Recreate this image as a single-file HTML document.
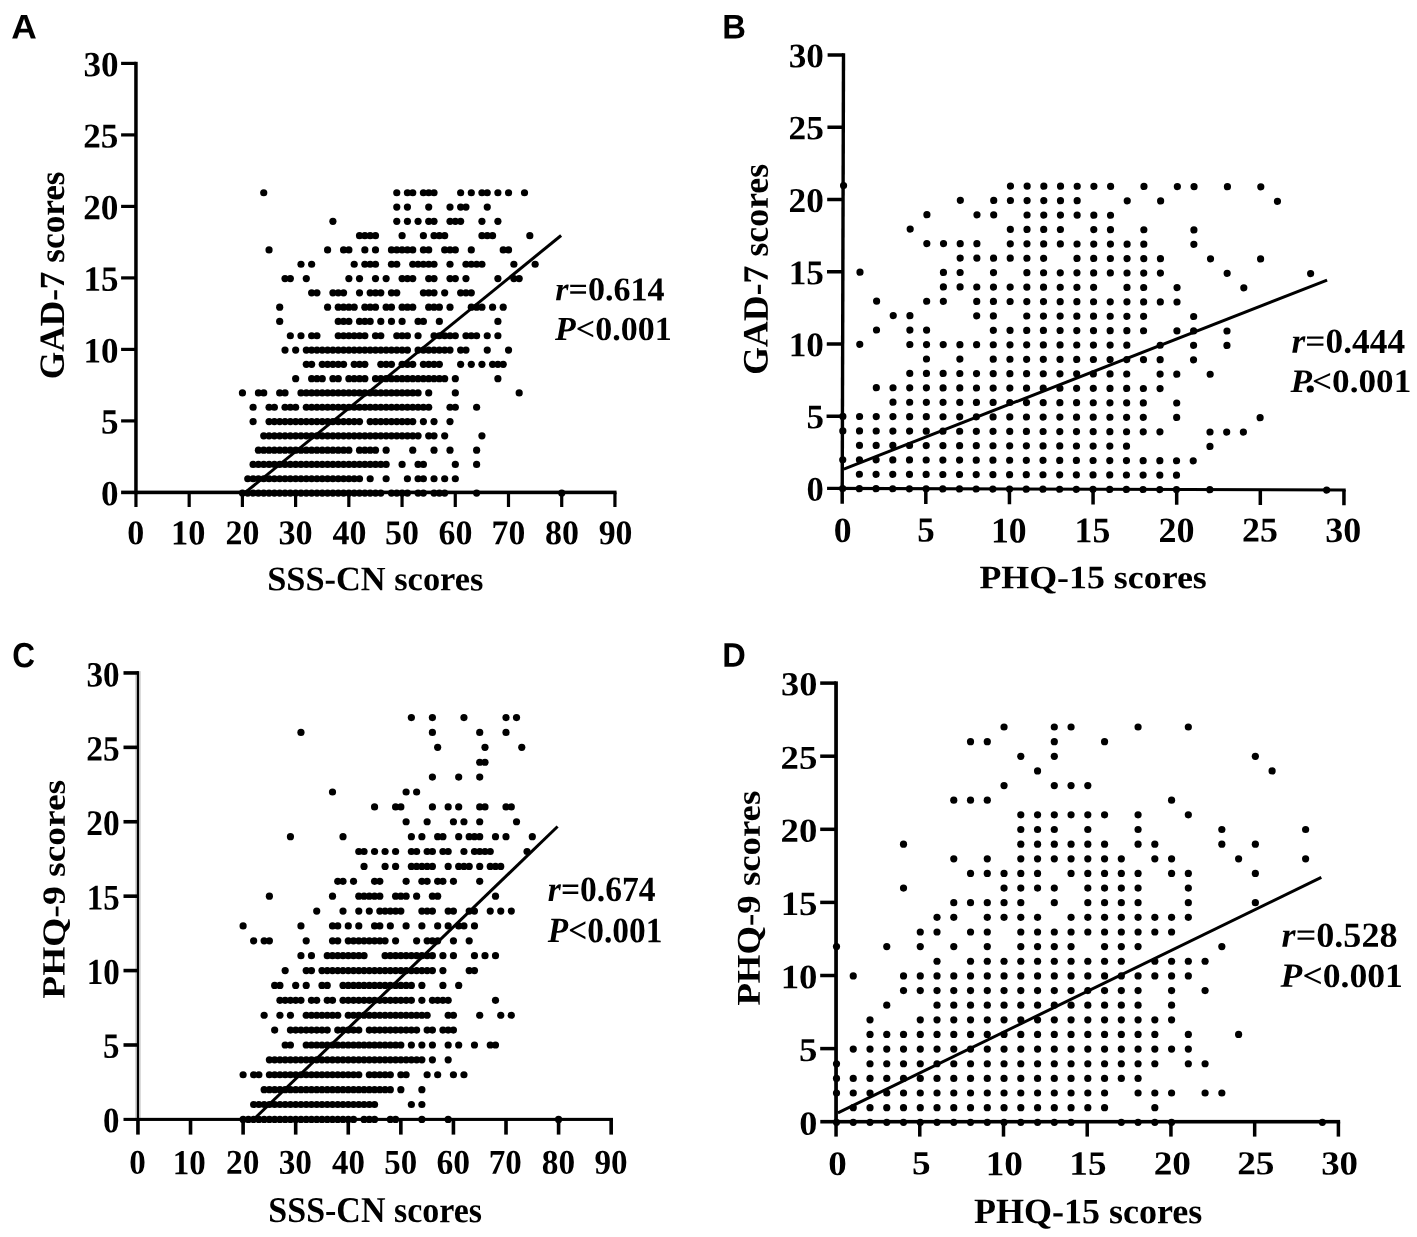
<!DOCTYPE html>
<html><head><meta charset="utf-8"><title>Scatter plots</title>
<style>html,body{margin:0;padding:0;background:#fff;}svg{display:block;will-change:transform;}</style></head>
<body><svg width="1417" height="1237" viewBox="0 0 1417 1237">
<rect width="1417" height="1237" fill="#fff"/>
<g fill="#000">
<g>
<rect x="134.20" y="61.80" width="3.5" height="432.40"/>
<rect x="121.10" y="490.60" width="495.43" height="3.6"/>
<rect x="121.10" y="419.30" width="14.85" height="3.2"/>
<rect x="121.10" y="347.80" width="14.85" height="3.2"/>
<rect x="121.10" y="276.30" width="14.85" height="3.2"/>
<rect x="121.10" y="204.80" width="14.85" height="3.2"/>
<rect x="121.10" y="133.30" width="14.85" height="3.2"/>
<rect x="121.10" y="61.80" width="14.85" height="3.2"/>
<rect x="134.35" y="492.40" width="3.2" height="14.60"/>
<rect x="187.57" y="492.40" width="3.2" height="14.60"/>
<rect x="240.79" y="492.40" width="3.2" height="14.60"/>
<rect x="294.01" y="492.40" width="3.2" height="14.60"/>
<rect x="347.23" y="492.40" width="3.2" height="14.60"/>
<rect x="400.45" y="492.40" width="3.2" height="14.60"/>
<rect x="453.67" y="492.40" width="3.2" height="14.60"/>
<rect x="506.89" y="492.40" width="3.2" height="14.60"/>
<rect x="560.11" y="492.40" width="3.2" height="14.60"/>
<rect x="613.33" y="492.40" width="3.2" height="14.60"/>
<circle cx="263.73" cy="192.75" r="3.6"/>
<circle cx="396.78" cy="192.75" r="3.6"/>
<circle cx="407.42" cy="192.75" r="3.6"/>
<circle cx="412.74" cy="192.75" r="3.6"/>
<circle cx="423.39" cy="192.75" r="3.6"/>
<circle cx="428.71" cy="192.75" r="3.6"/>
<circle cx="434.03" cy="192.75" r="3.6"/>
<circle cx="460.64" cy="192.75" r="3.6"/>
<circle cx="471.29" cy="192.75" r="3.6"/>
<circle cx="481.93" cy="192.75" r="3.6"/>
<circle cx="487.25" cy="192.75" r="3.6"/>
<circle cx="497.90" cy="192.75" r="3.6"/>
<circle cx="508.54" cy="192.75" r="3.6"/>
<circle cx="524.51" cy="192.75" r="3.6"/>
<circle cx="396.78" cy="207.05" r="3.6"/>
<circle cx="407.42" cy="207.05" r="3.6"/>
<circle cx="428.71" cy="207.05" r="3.6"/>
<circle cx="450.00" cy="207.05" r="3.6"/>
<circle cx="460.64" cy="207.05" r="3.6"/>
<circle cx="465.96" cy="207.05" r="3.6"/>
<circle cx="487.25" cy="207.05" r="3.6"/>
<circle cx="332.91" cy="221.35" r="3.6"/>
<circle cx="396.78" cy="221.35" r="3.6"/>
<circle cx="407.42" cy="221.35" r="3.6"/>
<circle cx="418.07" cy="221.35" r="3.6"/>
<circle cx="428.71" cy="221.35" r="3.6"/>
<circle cx="434.03" cy="221.35" r="3.6"/>
<circle cx="450.00" cy="221.35" r="3.6"/>
<circle cx="455.32" cy="221.35" r="3.6"/>
<circle cx="460.64" cy="221.35" r="3.6"/>
<circle cx="481.93" cy="221.35" r="3.6"/>
<circle cx="497.90" cy="221.35" r="3.6"/>
<circle cx="359.52" cy="235.65" r="3.6"/>
<circle cx="364.85" cy="235.65" r="3.6"/>
<circle cx="370.17" cy="235.65" r="3.6"/>
<circle cx="375.49" cy="235.65" r="3.6"/>
<circle cx="402.10" cy="235.65" r="3.6"/>
<circle cx="423.39" cy="235.65" r="3.6"/>
<circle cx="434.03" cy="235.65" r="3.6"/>
<circle cx="439.35" cy="235.65" r="3.6"/>
<circle cx="444.68" cy="235.65" r="3.6"/>
<circle cx="481.93" cy="235.65" r="3.6"/>
<circle cx="487.25" cy="235.65" r="3.6"/>
<circle cx="492.57" cy="235.65" r="3.6"/>
<circle cx="529.83" cy="235.65" r="3.6"/>
<circle cx="269.05" cy="249.95" r="3.6"/>
<circle cx="327.59" cy="249.95" r="3.6"/>
<circle cx="343.56" cy="249.95" r="3.6"/>
<circle cx="348.88" cy="249.95" r="3.6"/>
<circle cx="364.85" cy="249.95" r="3.6"/>
<circle cx="375.49" cy="249.95" r="3.6"/>
<circle cx="391.46" cy="249.95" r="3.6"/>
<circle cx="396.78" cy="249.95" r="3.6"/>
<circle cx="402.10" cy="249.95" r="3.6"/>
<circle cx="407.42" cy="249.95" r="3.6"/>
<circle cx="412.74" cy="249.95" r="3.6"/>
<circle cx="423.39" cy="249.95" r="3.6"/>
<circle cx="428.71" cy="249.95" r="3.6"/>
<circle cx="444.68" cy="249.95" r="3.6"/>
<circle cx="450.00" cy="249.95" r="3.6"/>
<circle cx="455.32" cy="249.95" r="3.6"/>
<circle cx="471.29" cy="249.95" r="3.6"/>
<circle cx="503.22" cy="249.95" r="3.6"/>
<circle cx="508.54" cy="249.95" r="3.6"/>
<circle cx="300.98" cy="264.25" r="3.6"/>
<circle cx="311.63" cy="264.25" r="3.6"/>
<circle cx="354.20" cy="264.25" r="3.6"/>
<circle cx="364.85" cy="264.25" r="3.6"/>
<circle cx="370.17" cy="264.25" r="3.6"/>
<circle cx="375.49" cy="264.25" r="3.6"/>
<circle cx="391.46" cy="264.25" r="3.6"/>
<circle cx="396.78" cy="264.25" r="3.6"/>
<circle cx="412.74" cy="264.25" r="3.6"/>
<circle cx="418.07" cy="264.25" r="3.6"/>
<circle cx="423.39" cy="264.25" r="3.6"/>
<circle cx="428.71" cy="264.25" r="3.6"/>
<circle cx="434.03" cy="264.25" r="3.6"/>
<circle cx="450.00" cy="264.25" r="3.6"/>
<circle cx="465.96" cy="264.25" r="3.6"/>
<circle cx="471.29" cy="264.25" r="3.6"/>
<circle cx="476.61" cy="264.25" r="3.6"/>
<circle cx="481.93" cy="264.25" r="3.6"/>
<circle cx="513.86" cy="264.25" r="3.6"/>
<circle cx="535.15" cy="264.25" r="3.6"/>
<circle cx="285.02" cy="278.55" r="3.6"/>
<circle cx="290.34" cy="278.55" r="3.6"/>
<circle cx="306.30" cy="278.55" r="3.6"/>
<circle cx="348.88" cy="278.55" r="3.6"/>
<circle cx="359.52" cy="278.55" r="3.6"/>
<circle cx="375.49" cy="278.55" r="3.6"/>
<circle cx="386.13" cy="278.55" r="3.6"/>
<circle cx="402.10" cy="278.55" r="3.6"/>
<circle cx="407.42" cy="278.55" r="3.6"/>
<circle cx="412.74" cy="278.55" r="3.6"/>
<circle cx="428.71" cy="278.55" r="3.6"/>
<circle cx="434.03" cy="278.55" r="3.6"/>
<circle cx="450.00" cy="278.55" r="3.6"/>
<circle cx="455.32" cy="278.55" r="3.6"/>
<circle cx="465.96" cy="278.55" r="3.6"/>
<circle cx="497.90" cy="278.55" r="3.6"/>
<circle cx="513.86" cy="278.55" r="3.6"/>
<circle cx="519.18" cy="278.55" r="3.6"/>
<circle cx="311.63" cy="292.85" r="3.6"/>
<circle cx="316.95" cy="292.85" r="3.6"/>
<circle cx="332.91" cy="292.85" r="3.6"/>
<circle cx="338.24" cy="292.85" r="3.6"/>
<circle cx="343.56" cy="292.85" r="3.6"/>
<circle cx="359.52" cy="292.85" r="3.6"/>
<circle cx="370.17" cy="292.85" r="3.6"/>
<circle cx="375.49" cy="292.85" r="3.6"/>
<circle cx="380.81" cy="292.85" r="3.6"/>
<circle cx="391.46" cy="292.85" r="3.6"/>
<circle cx="396.78" cy="292.85" r="3.6"/>
<circle cx="423.39" cy="292.85" r="3.6"/>
<circle cx="428.71" cy="292.85" r="3.6"/>
<circle cx="434.03" cy="292.85" r="3.6"/>
<circle cx="444.68" cy="292.85" r="3.6"/>
<circle cx="460.64" cy="292.85" r="3.6"/>
<circle cx="465.96" cy="292.85" r="3.6"/>
<circle cx="471.29" cy="292.85" r="3.6"/>
<circle cx="279.69" cy="307.15" r="3.6"/>
<circle cx="327.59" cy="307.15" r="3.6"/>
<circle cx="338.24" cy="307.15" r="3.6"/>
<circle cx="343.56" cy="307.15" r="3.6"/>
<circle cx="348.88" cy="307.15" r="3.6"/>
<circle cx="354.20" cy="307.15" r="3.6"/>
<circle cx="364.85" cy="307.15" r="3.6"/>
<circle cx="370.17" cy="307.15" r="3.6"/>
<circle cx="375.49" cy="307.15" r="3.6"/>
<circle cx="386.13" cy="307.15" r="3.6"/>
<circle cx="391.46" cy="307.15" r="3.6"/>
<circle cx="402.10" cy="307.15" r="3.6"/>
<circle cx="407.42" cy="307.15" r="3.6"/>
<circle cx="412.74" cy="307.15" r="3.6"/>
<circle cx="428.71" cy="307.15" r="3.6"/>
<circle cx="434.03" cy="307.15" r="3.6"/>
<circle cx="439.35" cy="307.15" r="3.6"/>
<circle cx="450.00" cy="307.15" r="3.6"/>
<circle cx="471.29" cy="307.15" r="3.6"/>
<circle cx="476.61" cy="307.15" r="3.6"/>
<circle cx="481.93" cy="307.15" r="3.6"/>
<circle cx="492.57" cy="307.15" r="3.6"/>
<circle cx="503.22" cy="307.15" r="3.6"/>
<circle cx="279.69" cy="321.45" r="3.6"/>
<circle cx="338.24" cy="321.45" r="3.6"/>
<circle cx="343.56" cy="321.45" r="3.6"/>
<circle cx="348.88" cy="321.45" r="3.6"/>
<circle cx="359.52" cy="321.45" r="3.6"/>
<circle cx="364.85" cy="321.45" r="3.6"/>
<circle cx="370.17" cy="321.45" r="3.6"/>
<circle cx="380.81" cy="321.45" r="3.6"/>
<circle cx="391.46" cy="321.45" r="3.6"/>
<circle cx="402.10" cy="321.45" r="3.6"/>
<circle cx="418.07" cy="321.45" r="3.6"/>
<circle cx="423.39" cy="321.45" r="3.6"/>
<circle cx="439.35" cy="321.45" r="3.6"/>
<circle cx="497.90" cy="321.45" r="3.6"/>
<circle cx="290.34" cy="335.75" r="3.6"/>
<circle cx="300.98" cy="335.75" r="3.6"/>
<circle cx="311.63" cy="335.75" r="3.6"/>
<circle cx="316.95" cy="335.75" r="3.6"/>
<circle cx="338.24" cy="335.75" r="3.6"/>
<circle cx="343.56" cy="335.75" r="3.6"/>
<circle cx="348.88" cy="335.75" r="3.6"/>
<circle cx="354.20" cy="335.75" r="3.6"/>
<circle cx="359.52" cy="335.75" r="3.6"/>
<circle cx="364.85" cy="335.75" r="3.6"/>
<circle cx="375.49" cy="335.75" r="3.6"/>
<circle cx="380.81" cy="335.75" r="3.6"/>
<circle cx="396.78" cy="335.75" r="3.6"/>
<circle cx="402.10" cy="335.75" r="3.6"/>
<circle cx="407.42" cy="335.75" r="3.6"/>
<circle cx="418.07" cy="335.75" r="3.6"/>
<circle cx="434.03" cy="335.75" r="3.6"/>
<circle cx="439.35" cy="335.75" r="3.6"/>
<circle cx="444.68" cy="335.75" r="3.6"/>
<circle cx="450.00" cy="335.75" r="3.6"/>
<circle cx="455.32" cy="335.75" r="3.6"/>
<circle cx="465.96" cy="335.75" r="3.6"/>
<circle cx="471.29" cy="335.75" r="3.6"/>
<circle cx="476.61" cy="335.75" r="3.6"/>
<circle cx="487.25" cy="335.75" r="3.6"/>
<circle cx="497.90" cy="335.75" r="3.6"/>
<circle cx="285.02" cy="350.05" r="3.6"/>
<circle cx="295.66" cy="350.05" r="3.6"/>
<circle cx="306.30" cy="350.05" r="3.6"/>
<circle cx="311.63" cy="350.05" r="3.6"/>
<circle cx="316.95" cy="350.05" r="3.6"/>
<circle cx="322.27" cy="350.05" r="3.6"/>
<circle cx="327.59" cy="350.05" r="3.6"/>
<circle cx="332.91" cy="350.05" r="3.6"/>
<circle cx="338.24" cy="350.05" r="3.6"/>
<circle cx="343.56" cy="350.05" r="3.6"/>
<circle cx="348.88" cy="350.05" r="3.6"/>
<circle cx="354.20" cy="350.05" r="3.6"/>
<circle cx="359.52" cy="350.05" r="3.6"/>
<circle cx="364.85" cy="350.05" r="3.6"/>
<circle cx="370.17" cy="350.05" r="3.6"/>
<circle cx="375.49" cy="350.05" r="3.6"/>
<circle cx="380.81" cy="350.05" r="3.6"/>
<circle cx="386.13" cy="350.05" r="3.6"/>
<circle cx="391.46" cy="350.05" r="3.6"/>
<circle cx="396.78" cy="350.05" r="3.6"/>
<circle cx="402.10" cy="350.05" r="3.6"/>
<circle cx="407.42" cy="350.05" r="3.6"/>
<circle cx="418.07" cy="350.05" r="3.6"/>
<circle cx="423.39" cy="350.05" r="3.6"/>
<circle cx="428.71" cy="350.05" r="3.6"/>
<circle cx="434.03" cy="350.05" r="3.6"/>
<circle cx="439.35" cy="350.05" r="3.6"/>
<circle cx="444.68" cy="350.05" r="3.6"/>
<circle cx="450.00" cy="350.05" r="3.6"/>
<circle cx="460.64" cy="350.05" r="3.6"/>
<circle cx="465.96" cy="350.05" r="3.6"/>
<circle cx="487.25" cy="350.05" r="3.6"/>
<circle cx="508.54" cy="350.05" r="3.6"/>
<circle cx="306.30" cy="364.35" r="3.6"/>
<circle cx="311.63" cy="364.35" r="3.6"/>
<circle cx="322.27" cy="364.35" r="3.6"/>
<circle cx="327.59" cy="364.35" r="3.6"/>
<circle cx="332.91" cy="364.35" r="3.6"/>
<circle cx="338.24" cy="364.35" r="3.6"/>
<circle cx="343.56" cy="364.35" r="3.6"/>
<circle cx="354.20" cy="364.35" r="3.6"/>
<circle cx="359.52" cy="364.35" r="3.6"/>
<circle cx="364.85" cy="364.35" r="3.6"/>
<circle cx="380.81" cy="364.35" r="3.6"/>
<circle cx="386.13" cy="364.35" r="3.6"/>
<circle cx="391.46" cy="364.35" r="3.6"/>
<circle cx="402.10" cy="364.35" r="3.6"/>
<circle cx="407.42" cy="364.35" r="3.6"/>
<circle cx="412.74" cy="364.35" r="3.6"/>
<circle cx="423.39" cy="364.35" r="3.6"/>
<circle cx="428.71" cy="364.35" r="3.6"/>
<circle cx="434.03" cy="364.35" r="3.6"/>
<circle cx="439.35" cy="364.35" r="3.6"/>
<circle cx="460.64" cy="364.35" r="3.6"/>
<circle cx="471.29" cy="364.35" r="3.6"/>
<circle cx="481.93" cy="364.35" r="3.6"/>
<circle cx="492.57" cy="364.35" r="3.6"/>
<circle cx="497.90" cy="364.35" r="3.6"/>
<circle cx="503.22" cy="364.35" r="3.6"/>
<circle cx="295.66" cy="378.65" r="3.6"/>
<circle cx="311.63" cy="378.65" r="3.6"/>
<circle cx="316.95" cy="378.65" r="3.6"/>
<circle cx="322.27" cy="378.65" r="3.6"/>
<circle cx="332.91" cy="378.65" r="3.6"/>
<circle cx="338.24" cy="378.65" r="3.6"/>
<circle cx="348.88" cy="378.65" r="3.6"/>
<circle cx="354.20" cy="378.65" r="3.6"/>
<circle cx="359.52" cy="378.65" r="3.6"/>
<circle cx="364.85" cy="378.65" r="3.6"/>
<circle cx="375.49" cy="378.65" r="3.6"/>
<circle cx="380.81" cy="378.65" r="3.6"/>
<circle cx="386.13" cy="378.65" r="3.6"/>
<circle cx="391.46" cy="378.65" r="3.6"/>
<circle cx="396.78" cy="378.65" r="3.6"/>
<circle cx="402.10" cy="378.65" r="3.6"/>
<circle cx="407.42" cy="378.65" r="3.6"/>
<circle cx="412.74" cy="378.65" r="3.6"/>
<circle cx="418.07" cy="378.65" r="3.6"/>
<circle cx="423.39" cy="378.65" r="3.6"/>
<circle cx="428.71" cy="378.65" r="3.6"/>
<circle cx="434.03" cy="378.65" r="3.6"/>
<circle cx="439.35" cy="378.65" r="3.6"/>
<circle cx="444.68" cy="378.65" r="3.6"/>
<circle cx="455.32" cy="378.65" r="3.6"/>
<circle cx="497.90" cy="378.65" r="3.6"/>
<circle cx="242.44" cy="392.95" r="3.6"/>
<circle cx="258.41" cy="392.95" r="3.6"/>
<circle cx="263.73" cy="392.95" r="3.6"/>
<circle cx="279.69" cy="392.95" r="3.6"/>
<circle cx="285.02" cy="392.95" r="3.6"/>
<circle cx="300.98" cy="392.95" r="3.6"/>
<circle cx="306.30" cy="392.95" r="3.6"/>
<circle cx="311.63" cy="392.95" r="3.6"/>
<circle cx="316.95" cy="392.95" r="3.6"/>
<circle cx="322.27" cy="392.95" r="3.6"/>
<circle cx="327.59" cy="392.95" r="3.6"/>
<circle cx="332.91" cy="392.95" r="3.6"/>
<circle cx="338.24" cy="392.95" r="3.6"/>
<circle cx="343.56" cy="392.95" r="3.6"/>
<circle cx="348.88" cy="392.95" r="3.6"/>
<circle cx="354.20" cy="392.95" r="3.6"/>
<circle cx="359.52" cy="392.95" r="3.6"/>
<circle cx="364.85" cy="392.95" r="3.6"/>
<circle cx="370.17" cy="392.95" r="3.6"/>
<circle cx="375.49" cy="392.95" r="3.6"/>
<circle cx="380.81" cy="392.95" r="3.6"/>
<circle cx="386.13" cy="392.95" r="3.6"/>
<circle cx="391.46" cy="392.95" r="3.6"/>
<circle cx="396.78" cy="392.95" r="3.6"/>
<circle cx="402.10" cy="392.95" r="3.6"/>
<circle cx="407.42" cy="392.95" r="3.6"/>
<circle cx="412.74" cy="392.95" r="3.6"/>
<circle cx="418.07" cy="392.95" r="3.6"/>
<circle cx="428.71" cy="392.95" r="3.6"/>
<circle cx="455.32" cy="392.95" r="3.6"/>
<circle cx="519.18" cy="392.95" r="3.6"/>
<circle cx="253.08" cy="407.25" r="3.6"/>
<circle cx="269.05" cy="407.25" r="3.6"/>
<circle cx="274.37" cy="407.25" r="3.6"/>
<circle cx="285.02" cy="407.25" r="3.6"/>
<circle cx="290.34" cy="407.25" r="3.6"/>
<circle cx="295.66" cy="407.25" r="3.6"/>
<circle cx="306.30" cy="407.25" r="3.6"/>
<circle cx="311.63" cy="407.25" r="3.6"/>
<circle cx="316.95" cy="407.25" r="3.6"/>
<circle cx="322.27" cy="407.25" r="3.6"/>
<circle cx="327.59" cy="407.25" r="3.6"/>
<circle cx="332.91" cy="407.25" r="3.6"/>
<circle cx="338.24" cy="407.25" r="3.6"/>
<circle cx="343.56" cy="407.25" r="3.6"/>
<circle cx="348.88" cy="407.25" r="3.6"/>
<circle cx="354.20" cy="407.25" r="3.6"/>
<circle cx="359.52" cy="407.25" r="3.6"/>
<circle cx="364.85" cy="407.25" r="3.6"/>
<circle cx="370.17" cy="407.25" r="3.6"/>
<circle cx="375.49" cy="407.25" r="3.6"/>
<circle cx="380.81" cy="407.25" r="3.6"/>
<circle cx="386.13" cy="407.25" r="3.6"/>
<circle cx="391.46" cy="407.25" r="3.6"/>
<circle cx="396.78" cy="407.25" r="3.6"/>
<circle cx="402.10" cy="407.25" r="3.6"/>
<circle cx="407.42" cy="407.25" r="3.6"/>
<circle cx="412.74" cy="407.25" r="3.6"/>
<circle cx="418.07" cy="407.25" r="3.6"/>
<circle cx="423.39" cy="407.25" r="3.6"/>
<circle cx="428.71" cy="407.25" r="3.6"/>
<circle cx="450.00" cy="407.25" r="3.6"/>
<circle cx="455.32" cy="407.25" r="3.6"/>
<circle cx="476.61" cy="407.25" r="3.6"/>
<circle cx="253.08" cy="421.55" r="3.6"/>
<circle cx="269.05" cy="421.55" r="3.6"/>
<circle cx="274.37" cy="421.55" r="3.6"/>
<circle cx="279.69" cy="421.55" r="3.6"/>
<circle cx="285.02" cy="421.55" r="3.6"/>
<circle cx="290.34" cy="421.55" r="3.6"/>
<circle cx="295.66" cy="421.55" r="3.6"/>
<circle cx="300.98" cy="421.55" r="3.6"/>
<circle cx="306.30" cy="421.55" r="3.6"/>
<circle cx="311.63" cy="421.55" r="3.6"/>
<circle cx="316.95" cy="421.55" r="3.6"/>
<circle cx="322.27" cy="421.55" r="3.6"/>
<circle cx="327.59" cy="421.55" r="3.6"/>
<circle cx="332.91" cy="421.55" r="3.6"/>
<circle cx="338.24" cy="421.55" r="3.6"/>
<circle cx="343.56" cy="421.55" r="3.6"/>
<circle cx="348.88" cy="421.55" r="3.6"/>
<circle cx="354.20" cy="421.55" r="3.6"/>
<circle cx="359.52" cy="421.55" r="3.6"/>
<circle cx="370.17" cy="421.55" r="3.6"/>
<circle cx="375.49" cy="421.55" r="3.6"/>
<circle cx="380.81" cy="421.55" r="3.6"/>
<circle cx="386.13" cy="421.55" r="3.6"/>
<circle cx="391.46" cy="421.55" r="3.6"/>
<circle cx="396.78" cy="421.55" r="3.6"/>
<circle cx="402.10" cy="421.55" r="3.6"/>
<circle cx="407.42" cy="421.55" r="3.6"/>
<circle cx="412.74" cy="421.55" r="3.6"/>
<circle cx="423.39" cy="421.55" r="3.6"/>
<circle cx="434.03" cy="421.55" r="3.6"/>
<circle cx="450.00" cy="421.55" r="3.6"/>
<circle cx="263.73" cy="435.85" r="3.6"/>
<circle cx="269.05" cy="435.85" r="3.6"/>
<circle cx="274.37" cy="435.85" r="3.6"/>
<circle cx="279.69" cy="435.85" r="3.6"/>
<circle cx="285.02" cy="435.85" r="3.6"/>
<circle cx="290.34" cy="435.85" r="3.6"/>
<circle cx="295.66" cy="435.85" r="3.6"/>
<circle cx="300.98" cy="435.85" r="3.6"/>
<circle cx="306.30" cy="435.85" r="3.6"/>
<circle cx="311.63" cy="435.85" r="3.6"/>
<circle cx="316.95" cy="435.85" r="3.6"/>
<circle cx="322.27" cy="435.85" r="3.6"/>
<circle cx="327.59" cy="435.85" r="3.6"/>
<circle cx="332.91" cy="435.85" r="3.6"/>
<circle cx="338.24" cy="435.85" r="3.6"/>
<circle cx="343.56" cy="435.85" r="3.6"/>
<circle cx="348.88" cy="435.85" r="3.6"/>
<circle cx="354.20" cy="435.85" r="3.6"/>
<circle cx="359.52" cy="435.85" r="3.6"/>
<circle cx="364.85" cy="435.85" r="3.6"/>
<circle cx="370.17" cy="435.85" r="3.6"/>
<circle cx="375.49" cy="435.85" r="3.6"/>
<circle cx="380.81" cy="435.85" r="3.6"/>
<circle cx="386.13" cy="435.85" r="3.6"/>
<circle cx="391.46" cy="435.85" r="3.6"/>
<circle cx="396.78" cy="435.85" r="3.6"/>
<circle cx="402.10" cy="435.85" r="3.6"/>
<circle cx="407.42" cy="435.85" r="3.6"/>
<circle cx="412.74" cy="435.85" r="3.6"/>
<circle cx="418.07" cy="435.85" r="3.6"/>
<circle cx="428.71" cy="435.85" r="3.6"/>
<circle cx="434.03" cy="435.85" r="3.6"/>
<circle cx="444.68" cy="435.85" r="3.6"/>
<circle cx="481.93" cy="435.85" r="3.6"/>
<circle cx="258.41" cy="450.15" r="3.6"/>
<circle cx="263.73" cy="450.15" r="3.6"/>
<circle cx="269.05" cy="450.15" r="3.6"/>
<circle cx="274.37" cy="450.15" r="3.6"/>
<circle cx="279.69" cy="450.15" r="3.6"/>
<circle cx="285.02" cy="450.15" r="3.6"/>
<circle cx="290.34" cy="450.15" r="3.6"/>
<circle cx="295.66" cy="450.15" r="3.6"/>
<circle cx="300.98" cy="450.15" r="3.6"/>
<circle cx="306.30" cy="450.15" r="3.6"/>
<circle cx="311.63" cy="450.15" r="3.6"/>
<circle cx="316.95" cy="450.15" r="3.6"/>
<circle cx="322.27" cy="450.15" r="3.6"/>
<circle cx="327.59" cy="450.15" r="3.6"/>
<circle cx="332.91" cy="450.15" r="3.6"/>
<circle cx="338.24" cy="450.15" r="3.6"/>
<circle cx="343.56" cy="450.15" r="3.6"/>
<circle cx="348.88" cy="450.15" r="3.6"/>
<circle cx="359.52" cy="450.15" r="3.6"/>
<circle cx="364.85" cy="450.15" r="3.6"/>
<circle cx="370.17" cy="450.15" r="3.6"/>
<circle cx="375.49" cy="450.15" r="3.6"/>
<circle cx="386.13" cy="450.15" r="3.6"/>
<circle cx="412.74" cy="450.15" r="3.6"/>
<circle cx="434.03" cy="450.15" r="3.6"/>
<circle cx="450.00" cy="450.15" r="3.6"/>
<circle cx="476.61" cy="450.15" r="3.6"/>
<circle cx="253.08" cy="464.45" r="3.6"/>
<circle cx="258.41" cy="464.45" r="3.6"/>
<circle cx="263.73" cy="464.45" r="3.6"/>
<circle cx="269.05" cy="464.45" r="3.6"/>
<circle cx="274.37" cy="464.45" r="3.6"/>
<circle cx="279.69" cy="464.45" r="3.6"/>
<circle cx="285.02" cy="464.45" r="3.6"/>
<circle cx="290.34" cy="464.45" r="3.6"/>
<circle cx="295.66" cy="464.45" r="3.6"/>
<circle cx="300.98" cy="464.45" r="3.6"/>
<circle cx="306.30" cy="464.45" r="3.6"/>
<circle cx="311.63" cy="464.45" r="3.6"/>
<circle cx="316.95" cy="464.45" r="3.6"/>
<circle cx="322.27" cy="464.45" r="3.6"/>
<circle cx="327.59" cy="464.45" r="3.6"/>
<circle cx="332.91" cy="464.45" r="3.6"/>
<circle cx="338.24" cy="464.45" r="3.6"/>
<circle cx="343.56" cy="464.45" r="3.6"/>
<circle cx="348.88" cy="464.45" r="3.6"/>
<circle cx="354.20" cy="464.45" r="3.6"/>
<circle cx="359.52" cy="464.45" r="3.6"/>
<circle cx="364.85" cy="464.45" r="3.6"/>
<circle cx="370.17" cy="464.45" r="3.6"/>
<circle cx="375.49" cy="464.45" r="3.6"/>
<circle cx="380.81" cy="464.45" r="3.6"/>
<circle cx="386.13" cy="464.45" r="3.6"/>
<circle cx="402.10" cy="464.45" r="3.6"/>
<circle cx="418.07" cy="464.45" r="3.6"/>
<circle cx="423.39" cy="464.45" r="3.6"/>
<circle cx="455.32" cy="464.45" r="3.6"/>
<circle cx="476.61" cy="464.45" r="3.6"/>
<circle cx="247.76" cy="478.75" r="3.6"/>
<circle cx="253.08" cy="478.75" r="3.6"/>
<circle cx="258.41" cy="478.75" r="3.6"/>
<circle cx="263.73" cy="478.75" r="3.6"/>
<circle cx="269.05" cy="478.75" r="3.6"/>
<circle cx="274.37" cy="478.75" r="3.6"/>
<circle cx="279.69" cy="478.75" r="3.6"/>
<circle cx="285.02" cy="478.75" r="3.6"/>
<circle cx="290.34" cy="478.75" r="3.6"/>
<circle cx="295.66" cy="478.75" r="3.6"/>
<circle cx="300.98" cy="478.75" r="3.6"/>
<circle cx="306.30" cy="478.75" r="3.6"/>
<circle cx="311.63" cy="478.75" r="3.6"/>
<circle cx="316.95" cy="478.75" r="3.6"/>
<circle cx="322.27" cy="478.75" r="3.6"/>
<circle cx="327.59" cy="478.75" r="3.6"/>
<circle cx="332.91" cy="478.75" r="3.6"/>
<circle cx="338.24" cy="478.75" r="3.6"/>
<circle cx="343.56" cy="478.75" r="3.6"/>
<circle cx="348.88" cy="478.75" r="3.6"/>
<circle cx="354.20" cy="478.75" r="3.6"/>
<circle cx="359.52" cy="478.75" r="3.6"/>
<circle cx="370.17" cy="478.75" r="3.6"/>
<circle cx="386.13" cy="478.75" r="3.6"/>
<circle cx="407.42" cy="478.75" r="3.6"/>
<circle cx="418.07" cy="478.75" r="3.6"/>
<circle cx="423.39" cy="478.75" r="3.6"/>
<circle cx="434.03" cy="478.75" r="3.6"/>
<circle cx="444.68" cy="478.75" r="3.6"/>
<circle cx="455.32" cy="478.75" r="3.6"/>
<circle cx="242.44" cy="493.05" r="3.6"/>
<circle cx="247.76" cy="493.05" r="3.6"/>
<circle cx="253.08" cy="493.05" r="3.6"/>
<circle cx="258.41" cy="493.05" r="3.6"/>
<circle cx="263.73" cy="493.05" r="3.6"/>
<circle cx="269.05" cy="493.05" r="3.6"/>
<circle cx="274.37" cy="493.05" r="3.6"/>
<circle cx="279.69" cy="493.05" r="3.6"/>
<circle cx="285.02" cy="493.05" r="3.6"/>
<circle cx="290.34" cy="493.05" r="3.6"/>
<circle cx="295.66" cy="493.05" r="3.6"/>
<circle cx="300.98" cy="493.05" r="3.6"/>
<circle cx="306.30" cy="493.05" r="3.6"/>
<circle cx="311.63" cy="493.05" r="3.6"/>
<circle cx="316.95" cy="493.05" r="3.6"/>
<circle cx="322.27" cy="493.05" r="3.6"/>
<circle cx="327.59" cy="493.05" r="3.6"/>
<circle cx="332.91" cy="493.05" r="3.6"/>
<circle cx="338.24" cy="493.05" r="3.6"/>
<circle cx="343.56" cy="493.05" r="3.6"/>
<circle cx="348.88" cy="493.05" r="3.6"/>
<circle cx="354.20" cy="493.05" r="3.6"/>
<circle cx="359.52" cy="493.05" r="3.6"/>
<circle cx="364.85" cy="493.05" r="3.6"/>
<circle cx="370.17" cy="493.05" r="3.6"/>
<circle cx="375.49" cy="493.05" r="3.6"/>
<circle cx="380.81" cy="493.05" r="3.6"/>
<circle cx="391.46" cy="493.05" r="3.6"/>
<circle cx="396.78" cy="493.05" r="3.6"/>
<circle cx="402.10" cy="493.05" r="3.6"/>
<circle cx="407.42" cy="493.05" r="3.6"/>
<circle cx="418.07" cy="493.05" r="3.6"/>
<circle cx="423.39" cy="493.05" r="3.6"/>
<circle cx="434.03" cy="493.05" r="3.6"/>
<circle cx="439.35" cy="493.05" r="3.6"/>
<circle cx="444.68" cy="493.05" r="3.6"/>
<circle cx="476.61" cy="493.05" r="3.6"/>
<circle cx="561.76" cy="493.05" r="3.6"/>
<line x1="245.3" y1="492.4" x2="561.1" y2="235.5" stroke="#000" stroke-width="3"/>
</g>
<g transform="rotate(0.17 1093 272)">
<rect x="841.16" y="53.95" width="3.4" height="436.80"/>
<rect x="827.70" y="487.65" width="518.66" height="3.1"/>
<rect x="827.00" y="415.20" width="15.86" height="3.5"/>
<rect x="827.00" y="342.95" width="15.86" height="3.5"/>
<rect x="827.00" y="270.70" width="15.86" height="3.5"/>
<rect x="827.00" y="198.45" width="15.86" height="3.5"/>
<rect x="827.00" y="126.20" width="15.86" height="3.5"/>
<rect x="827.00" y="53.95" width="15.86" height="3.5"/>
<rect x="841.11" y="489.20" width="3.5" height="15.35"/>
<rect x="924.74" y="489.20" width="3.5" height="15.35"/>
<rect x="1008.36" y="489.20" width="3.5" height="15.35"/>
<rect x="1091.99" y="489.20" width="3.5" height="15.35"/>
<rect x="1175.61" y="489.20" width="3.5" height="15.35"/>
<rect x="1259.24" y="489.20" width="3.5" height="15.35"/>
<rect x="1342.86" y="489.20" width="3.5" height="15.35"/>
<circle cx="843.30" cy="186.32" r="3.6"/>
<circle cx="1010.20" cy="186.32" r="3.6"/>
<circle cx="1026.89" cy="186.32" r="3.6"/>
<circle cx="1043.58" cy="186.32" r="3.6"/>
<circle cx="1060.27" cy="186.32" r="3.6"/>
<circle cx="1076.96" cy="186.32" r="3.6"/>
<circle cx="1093.65" cy="186.32" r="3.6"/>
<circle cx="1110.34" cy="186.32" r="3.6"/>
<circle cx="1143.72" cy="186.32" r="3.6"/>
<circle cx="1177.10" cy="186.32" r="3.6"/>
<circle cx="1193.79" cy="186.32" r="3.6"/>
<circle cx="1227.17" cy="186.32" r="3.6"/>
<circle cx="1260.55" cy="186.32" r="3.6"/>
<circle cx="960.13" cy="200.75" r="3.6"/>
<circle cx="993.51" cy="200.75" r="3.6"/>
<circle cx="1010.20" cy="200.75" r="3.6"/>
<circle cx="1026.89" cy="200.75" r="3.6"/>
<circle cx="1043.58" cy="200.75" r="3.6"/>
<circle cx="1060.27" cy="200.75" r="3.6"/>
<circle cx="1076.96" cy="200.75" r="3.6"/>
<circle cx="1127.03" cy="200.75" r="3.6"/>
<circle cx="1160.41" cy="200.75" r="3.6"/>
<circle cx="1277.24" cy="200.75" r="3.6"/>
<circle cx="926.75" cy="215.18" r="3.6"/>
<circle cx="976.82" cy="215.18" r="3.6"/>
<circle cx="993.51" cy="215.18" r="3.6"/>
<circle cx="1026.89" cy="215.18" r="3.6"/>
<circle cx="1043.58" cy="215.18" r="3.6"/>
<circle cx="1060.27" cy="215.18" r="3.6"/>
<circle cx="1076.96" cy="215.18" r="3.6"/>
<circle cx="1093.65" cy="215.18" r="3.6"/>
<circle cx="1110.34" cy="215.18" r="3.6"/>
<circle cx="910.06" cy="229.61" r="3.6"/>
<circle cx="1010.20" cy="229.61" r="3.6"/>
<circle cx="1026.89" cy="229.61" r="3.6"/>
<circle cx="1043.58" cy="229.61" r="3.6"/>
<circle cx="1060.27" cy="229.61" r="3.6"/>
<circle cx="1093.65" cy="229.61" r="3.6"/>
<circle cx="1110.34" cy="229.61" r="3.6"/>
<circle cx="1143.72" cy="229.61" r="3.6"/>
<circle cx="1193.79" cy="229.61" r="3.6"/>
<circle cx="926.75" cy="244.04" r="3.6"/>
<circle cx="943.44" cy="244.04" r="3.6"/>
<circle cx="960.13" cy="244.04" r="3.6"/>
<circle cx="976.82" cy="244.04" r="3.6"/>
<circle cx="1010.20" cy="244.04" r="3.6"/>
<circle cx="1026.89" cy="244.04" r="3.6"/>
<circle cx="1043.58" cy="244.04" r="3.6"/>
<circle cx="1060.27" cy="244.04" r="3.6"/>
<circle cx="1076.96" cy="244.04" r="3.6"/>
<circle cx="1093.65" cy="244.04" r="3.6"/>
<circle cx="1110.34" cy="244.04" r="3.6"/>
<circle cx="1127.03" cy="244.04" r="3.6"/>
<circle cx="1143.72" cy="244.04" r="3.6"/>
<circle cx="1193.79" cy="244.04" r="3.6"/>
<circle cx="960.13" cy="258.47" r="3.6"/>
<circle cx="976.82" cy="258.47" r="3.6"/>
<circle cx="993.51" cy="258.47" r="3.6"/>
<circle cx="1010.20" cy="258.47" r="3.6"/>
<circle cx="1026.89" cy="258.47" r="3.6"/>
<circle cx="1043.58" cy="258.47" r="3.6"/>
<circle cx="1076.96" cy="258.47" r="3.6"/>
<circle cx="1093.65" cy="258.47" r="3.6"/>
<circle cx="1110.34" cy="258.47" r="3.6"/>
<circle cx="1127.03" cy="258.47" r="3.6"/>
<circle cx="1143.72" cy="258.47" r="3.6"/>
<circle cx="1160.41" cy="258.47" r="3.6"/>
<circle cx="1210.48" cy="258.47" r="3.6"/>
<circle cx="1260.55" cy="258.47" r="3.6"/>
<circle cx="859.99" cy="272.90" r="3.6"/>
<circle cx="943.44" cy="272.90" r="3.6"/>
<circle cx="960.13" cy="272.90" r="3.6"/>
<circle cx="993.51" cy="272.90" r="3.6"/>
<circle cx="1026.89" cy="272.90" r="3.6"/>
<circle cx="1043.58" cy="272.90" r="3.6"/>
<circle cx="1060.27" cy="272.90" r="3.6"/>
<circle cx="1076.96" cy="272.90" r="3.6"/>
<circle cx="1093.65" cy="272.90" r="3.6"/>
<circle cx="1110.34" cy="272.90" r="3.6"/>
<circle cx="1127.03" cy="272.90" r="3.6"/>
<circle cx="1143.72" cy="272.90" r="3.6"/>
<circle cx="1160.41" cy="272.90" r="3.6"/>
<circle cx="1227.17" cy="272.90" r="3.6"/>
<circle cx="1310.62" cy="272.90" r="3.6"/>
<circle cx="943.44" cy="287.33" r="3.6"/>
<circle cx="960.13" cy="287.33" r="3.6"/>
<circle cx="976.82" cy="287.33" r="3.6"/>
<circle cx="993.51" cy="287.33" r="3.6"/>
<circle cx="1010.20" cy="287.33" r="3.6"/>
<circle cx="1026.89" cy="287.33" r="3.6"/>
<circle cx="1043.58" cy="287.33" r="3.6"/>
<circle cx="1060.27" cy="287.33" r="3.6"/>
<circle cx="1076.96" cy="287.33" r="3.6"/>
<circle cx="1093.65" cy="287.33" r="3.6"/>
<circle cx="1127.03" cy="287.33" r="3.6"/>
<circle cx="1143.72" cy="287.33" r="3.6"/>
<circle cx="1177.10" cy="287.33" r="3.6"/>
<circle cx="1243.86" cy="287.33" r="3.6"/>
<circle cx="876.68" cy="301.76" r="3.6"/>
<circle cx="926.75" cy="301.76" r="3.6"/>
<circle cx="943.44" cy="301.76" r="3.6"/>
<circle cx="976.82" cy="301.76" r="3.6"/>
<circle cx="993.51" cy="301.76" r="3.6"/>
<circle cx="1010.20" cy="301.76" r="3.6"/>
<circle cx="1026.89" cy="301.76" r="3.6"/>
<circle cx="1043.58" cy="301.76" r="3.6"/>
<circle cx="1060.27" cy="301.76" r="3.6"/>
<circle cx="1076.96" cy="301.76" r="3.6"/>
<circle cx="1093.65" cy="301.76" r="3.6"/>
<circle cx="1110.34" cy="301.76" r="3.6"/>
<circle cx="1127.03" cy="301.76" r="3.6"/>
<circle cx="1143.72" cy="301.76" r="3.6"/>
<circle cx="1160.41" cy="301.76" r="3.6"/>
<circle cx="1177.10" cy="301.76" r="3.6"/>
<circle cx="893.37" cy="316.19" r="3.6"/>
<circle cx="910.06" cy="316.19" r="3.6"/>
<circle cx="976.82" cy="316.19" r="3.6"/>
<circle cx="993.51" cy="316.19" r="3.6"/>
<circle cx="1026.89" cy="316.19" r="3.6"/>
<circle cx="1043.58" cy="316.19" r="3.6"/>
<circle cx="1060.27" cy="316.19" r="3.6"/>
<circle cx="1076.96" cy="316.19" r="3.6"/>
<circle cx="1093.65" cy="316.19" r="3.6"/>
<circle cx="1110.34" cy="316.19" r="3.6"/>
<circle cx="1127.03" cy="316.19" r="3.6"/>
<circle cx="1143.72" cy="316.19" r="3.6"/>
<circle cx="1193.79" cy="316.19" r="3.6"/>
<circle cx="876.68" cy="330.62" r="3.6"/>
<circle cx="910.06" cy="330.62" r="3.6"/>
<circle cx="926.75" cy="330.62" r="3.6"/>
<circle cx="993.51" cy="330.62" r="3.6"/>
<circle cx="1010.20" cy="330.62" r="3.6"/>
<circle cx="1026.89" cy="330.62" r="3.6"/>
<circle cx="1043.58" cy="330.62" r="3.6"/>
<circle cx="1060.27" cy="330.62" r="3.6"/>
<circle cx="1076.96" cy="330.62" r="3.6"/>
<circle cx="1093.65" cy="330.62" r="3.6"/>
<circle cx="1110.34" cy="330.62" r="3.6"/>
<circle cx="1127.03" cy="330.62" r="3.6"/>
<circle cx="1143.72" cy="330.62" r="3.6"/>
<circle cx="1177.10" cy="330.62" r="3.6"/>
<circle cx="1193.79" cy="330.62" r="3.6"/>
<circle cx="1227.17" cy="330.62" r="3.6"/>
<circle cx="859.99" cy="345.05" r="3.6"/>
<circle cx="910.06" cy="345.05" r="3.6"/>
<circle cx="926.75" cy="345.05" r="3.6"/>
<circle cx="943.44" cy="345.05" r="3.6"/>
<circle cx="960.13" cy="345.05" r="3.6"/>
<circle cx="976.82" cy="345.05" r="3.6"/>
<circle cx="993.51" cy="345.05" r="3.6"/>
<circle cx="1010.20" cy="345.05" r="3.6"/>
<circle cx="1026.89" cy="345.05" r="3.6"/>
<circle cx="1043.58" cy="345.05" r="3.6"/>
<circle cx="1060.27" cy="345.05" r="3.6"/>
<circle cx="1076.96" cy="345.05" r="3.6"/>
<circle cx="1093.65" cy="345.05" r="3.6"/>
<circle cx="1110.34" cy="345.05" r="3.6"/>
<circle cx="1127.03" cy="345.05" r="3.6"/>
<circle cx="1160.41" cy="345.05" r="3.6"/>
<circle cx="1193.79" cy="345.05" r="3.6"/>
<circle cx="1227.17" cy="345.05" r="3.6"/>
<circle cx="926.75" cy="359.48" r="3.6"/>
<circle cx="960.13" cy="359.48" r="3.6"/>
<circle cx="993.51" cy="359.48" r="3.6"/>
<circle cx="1010.20" cy="359.48" r="3.6"/>
<circle cx="1026.89" cy="359.48" r="3.6"/>
<circle cx="1043.58" cy="359.48" r="3.6"/>
<circle cx="1060.27" cy="359.48" r="3.6"/>
<circle cx="1076.96" cy="359.48" r="3.6"/>
<circle cx="1093.65" cy="359.48" r="3.6"/>
<circle cx="1110.34" cy="359.48" r="3.6"/>
<circle cx="1127.03" cy="359.48" r="3.6"/>
<circle cx="1143.72" cy="359.48" r="3.6"/>
<circle cx="1160.41" cy="359.48" r="3.6"/>
<circle cx="1193.79" cy="359.48" r="3.6"/>
<circle cx="910.06" cy="373.91" r="3.6"/>
<circle cx="926.75" cy="373.91" r="3.6"/>
<circle cx="943.44" cy="373.91" r="3.6"/>
<circle cx="960.13" cy="373.91" r="3.6"/>
<circle cx="976.82" cy="373.91" r="3.6"/>
<circle cx="993.51" cy="373.91" r="3.6"/>
<circle cx="1010.20" cy="373.91" r="3.6"/>
<circle cx="1026.89" cy="373.91" r="3.6"/>
<circle cx="1043.58" cy="373.91" r="3.6"/>
<circle cx="1060.27" cy="373.91" r="3.6"/>
<circle cx="1076.96" cy="373.91" r="3.6"/>
<circle cx="1093.65" cy="373.91" r="3.6"/>
<circle cx="1110.34" cy="373.91" r="3.6"/>
<circle cx="1127.03" cy="373.91" r="3.6"/>
<circle cx="1160.41" cy="373.91" r="3.6"/>
<circle cx="1177.10" cy="373.91" r="3.6"/>
<circle cx="1210.48" cy="373.91" r="3.6"/>
<circle cx="876.68" cy="388.34" r="3.6"/>
<circle cx="893.37" cy="388.34" r="3.6"/>
<circle cx="910.06" cy="388.34" r="3.6"/>
<circle cx="926.75" cy="388.34" r="3.6"/>
<circle cx="943.44" cy="388.34" r="3.6"/>
<circle cx="960.13" cy="388.34" r="3.6"/>
<circle cx="976.82" cy="388.34" r="3.6"/>
<circle cx="993.51" cy="388.34" r="3.6"/>
<circle cx="1010.20" cy="388.34" r="3.6"/>
<circle cx="1026.89" cy="388.34" r="3.6"/>
<circle cx="1043.58" cy="388.34" r="3.6"/>
<circle cx="1060.27" cy="388.34" r="3.6"/>
<circle cx="1076.96" cy="388.34" r="3.6"/>
<circle cx="1093.65" cy="388.34" r="3.6"/>
<circle cx="1110.34" cy="388.34" r="3.6"/>
<circle cx="1127.03" cy="388.34" r="3.6"/>
<circle cx="1143.72" cy="388.34" r="3.6"/>
<circle cx="1160.41" cy="388.34" r="3.6"/>
<circle cx="1310.62" cy="388.34" r="3.6"/>
<circle cx="893.37" cy="402.77" r="3.6"/>
<circle cx="910.06" cy="402.77" r="3.6"/>
<circle cx="926.75" cy="402.77" r="3.6"/>
<circle cx="943.44" cy="402.77" r="3.6"/>
<circle cx="960.13" cy="402.77" r="3.6"/>
<circle cx="976.82" cy="402.77" r="3.6"/>
<circle cx="993.51" cy="402.77" r="3.6"/>
<circle cx="1010.20" cy="402.77" r="3.6"/>
<circle cx="1026.89" cy="402.77" r="3.6"/>
<circle cx="1043.58" cy="402.77" r="3.6"/>
<circle cx="1060.27" cy="402.77" r="3.6"/>
<circle cx="1076.96" cy="402.77" r="3.6"/>
<circle cx="1093.65" cy="402.77" r="3.6"/>
<circle cx="1110.34" cy="402.77" r="3.6"/>
<circle cx="1127.03" cy="402.77" r="3.6"/>
<circle cx="1143.72" cy="402.77" r="3.6"/>
<circle cx="1177.10" cy="402.77" r="3.6"/>
<circle cx="843.30" cy="417.20" r="3.6"/>
<circle cx="859.99" cy="417.20" r="3.6"/>
<circle cx="876.68" cy="417.20" r="3.6"/>
<circle cx="893.37" cy="417.20" r="3.6"/>
<circle cx="910.06" cy="417.20" r="3.6"/>
<circle cx="926.75" cy="417.20" r="3.6"/>
<circle cx="943.44" cy="417.20" r="3.6"/>
<circle cx="960.13" cy="417.20" r="3.6"/>
<circle cx="976.82" cy="417.20" r="3.6"/>
<circle cx="993.51" cy="417.20" r="3.6"/>
<circle cx="1010.20" cy="417.20" r="3.6"/>
<circle cx="1026.89" cy="417.20" r="3.6"/>
<circle cx="1043.58" cy="417.20" r="3.6"/>
<circle cx="1060.27" cy="417.20" r="3.6"/>
<circle cx="1076.96" cy="417.20" r="3.6"/>
<circle cx="1093.65" cy="417.20" r="3.6"/>
<circle cx="1110.34" cy="417.20" r="3.6"/>
<circle cx="1127.03" cy="417.20" r="3.6"/>
<circle cx="1143.72" cy="417.20" r="3.6"/>
<circle cx="1177.10" cy="417.20" r="3.6"/>
<circle cx="1260.55" cy="417.20" r="3.6"/>
<circle cx="843.30" cy="431.63" r="3.6"/>
<circle cx="859.99" cy="431.63" r="3.6"/>
<circle cx="876.68" cy="431.63" r="3.6"/>
<circle cx="893.37" cy="431.63" r="3.6"/>
<circle cx="910.06" cy="431.63" r="3.6"/>
<circle cx="926.75" cy="431.63" r="3.6"/>
<circle cx="943.44" cy="431.63" r="3.6"/>
<circle cx="960.13" cy="431.63" r="3.6"/>
<circle cx="976.82" cy="431.63" r="3.6"/>
<circle cx="993.51" cy="431.63" r="3.6"/>
<circle cx="1010.20" cy="431.63" r="3.6"/>
<circle cx="1026.89" cy="431.63" r="3.6"/>
<circle cx="1043.58" cy="431.63" r="3.6"/>
<circle cx="1060.27" cy="431.63" r="3.6"/>
<circle cx="1076.96" cy="431.63" r="3.6"/>
<circle cx="1093.65" cy="431.63" r="3.6"/>
<circle cx="1110.34" cy="431.63" r="3.6"/>
<circle cx="1127.03" cy="431.63" r="3.6"/>
<circle cx="1143.72" cy="431.63" r="3.6"/>
<circle cx="1160.41" cy="431.63" r="3.6"/>
<circle cx="1210.48" cy="431.63" r="3.6"/>
<circle cx="1227.17" cy="431.63" r="3.6"/>
<circle cx="1243.86" cy="431.63" r="3.6"/>
<circle cx="859.99" cy="446.06" r="3.6"/>
<circle cx="876.68" cy="446.06" r="3.6"/>
<circle cx="893.37" cy="446.06" r="3.6"/>
<circle cx="910.06" cy="446.06" r="3.6"/>
<circle cx="926.75" cy="446.06" r="3.6"/>
<circle cx="943.44" cy="446.06" r="3.6"/>
<circle cx="960.13" cy="446.06" r="3.6"/>
<circle cx="976.82" cy="446.06" r="3.6"/>
<circle cx="993.51" cy="446.06" r="3.6"/>
<circle cx="1010.20" cy="446.06" r="3.6"/>
<circle cx="1026.89" cy="446.06" r="3.6"/>
<circle cx="1043.58" cy="446.06" r="3.6"/>
<circle cx="1060.27" cy="446.06" r="3.6"/>
<circle cx="1076.96" cy="446.06" r="3.6"/>
<circle cx="1093.65" cy="446.06" r="3.6"/>
<circle cx="1110.34" cy="446.06" r="3.6"/>
<circle cx="1127.03" cy="446.06" r="3.6"/>
<circle cx="1210.48" cy="446.06" r="3.6"/>
<circle cx="843.30" cy="460.49" r="3.6"/>
<circle cx="859.99" cy="460.49" r="3.6"/>
<circle cx="876.68" cy="460.49" r="3.6"/>
<circle cx="893.37" cy="460.49" r="3.6"/>
<circle cx="910.06" cy="460.49" r="3.6"/>
<circle cx="926.75" cy="460.49" r="3.6"/>
<circle cx="943.44" cy="460.49" r="3.6"/>
<circle cx="960.13" cy="460.49" r="3.6"/>
<circle cx="976.82" cy="460.49" r="3.6"/>
<circle cx="993.51" cy="460.49" r="3.6"/>
<circle cx="1010.20" cy="460.49" r="3.6"/>
<circle cx="1026.89" cy="460.49" r="3.6"/>
<circle cx="1043.58" cy="460.49" r="3.6"/>
<circle cx="1060.27" cy="460.49" r="3.6"/>
<circle cx="1076.96" cy="460.49" r="3.6"/>
<circle cx="1093.65" cy="460.49" r="3.6"/>
<circle cx="1110.34" cy="460.49" r="3.6"/>
<circle cx="1127.03" cy="460.49" r="3.6"/>
<circle cx="1143.72" cy="460.49" r="3.6"/>
<circle cx="1160.41" cy="460.49" r="3.6"/>
<circle cx="1177.10" cy="460.49" r="3.6"/>
<circle cx="1193.79" cy="460.49" r="3.6"/>
<circle cx="859.99" cy="474.92" r="3.6"/>
<circle cx="876.68" cy="474.92" r="3.6"/>
<circle cx="893.37" cy="474.92" r="3.6"/>
<circle cx="910.06" cy="474.92" r="3.6"/>
<circle cx="926.75" cy="474.92" r="3.6"/>
<circle cx="943.44" cy="474.92" r="3.6"/>
<circle cx="960.13" cy="474.92" r="3.6"/>
<circle cx="976.82" cy="474.92" r="3.6"/>
<circle cx="993.51" cy="474.92" r="3.6"/>
<circle cx="1010.20" cy="474.92" r="3.6"/>
<circle cx="1026.89" cy="474.92" r="3.6"/>
<circle cx="1043.58" cy="474.92" r="3.6"/>
<circle cx="1060.27" cy="474.92" r="3.6"/>
<circle cx="1076.96" cy="474.92" r="3.6"/>
<circle cx="1093.65" cy="474.92" r="3.6"/>
<circle cx="1110.34" cy="474.92" r="3.6"/>
<circle cx="1127.03" cy="474.92" r="3.6"/>
<circle cx="1143.72" cy="474.92" r="3.6"/>
<circle cx="1160.41" cy="474.92" r="3.6"/>
<circle cx="1177.10" cy="474.92" r="3.6"/>
<circle cx="843.30" cy="489.35" r="3.6"/>
<circle cx="859.99" cy="489.35" r="3.6"/>
<circle cx="876.68" cy="489.35" r="3.6"/>
<circle cx="893.37" cy="489.35" r="3.6"/>
<circle cx="910.06" cy="489.35" r="3.6"/>
<circle cx="926.75" cy="489.35" r="3.6"/>
<circle cx="943.44" cy="489.35" r="3.6"/>
<circle cx="960.13" cy="489.35" r="3.6"/>
<circle cx="976.82" cy="489.35" r="3.6"/>
<circle cx="993.51" cy="489.35" r="3.6"/>
<circle cx="1010.20" cy="489.35" r="3.6"/>
<circle cx="1026.89" cy="489.35" r="3.6"/>
<circle cx="1043.58" cy="489.35" r="3.6"/>
<circle cx="1060.27" cy="489.35" r="3.6"/>
<circle cx="1076.96" cy="489.35" r="3.6"/>
<circle cx="1093.65" cy="489.35" r="3.6"/>
<circle cx="1110.34" cy="489.35" r="3.6"/>
<circle cx="1127.03" cy="489.35" r="3.6"/>
<circle cx="1143.72" cy="489.35" r="3.6"/>
<circle cx="1160.41" cy="489.35" r="3.6"/>
<circle cx="1177.10" cy="489.35" r="3.6"/>
<circle cx="1210.48" cy="489.35" r="3.6"/>
<circle cx="1327.31" cy="489.35" r="3.6"/>
<line x1="844.39" y1="469.85" x2="1327.12" y2="279.4" stroke="#000" stroke-width="3"/>
</g>
<g>
<rect x="135.15" y="671.14" width="5.6" height="448.26" fill="#cfcfcf"/>
<rect x="136.85" y="671.14" width="2.2" height="449.81"/>
<rect x="123.50" y="1117.85" width="489.47" height="3.1"/>
<rect x="123.50" y="1043.19" width="14.45" height="3.6"/>
<rect x="123.50" y="968.78" width="14.45" height="3.6"/>
<rect x="123.50" y="894.37" width="14.45" height="3.6"/>
<rect x="123.50" y="819.96" width="14.45" height="3.6"/>
<rect x="123.50" y="745.55" width="14.45" height="3.6"/>
<rect x="123.50" y="671.14" width="14.45" height="3.6"/>
<rect x="136.15" y="1119.40" width="3.6" height="15.20"/>
<rect x="188.73" y="1119.40" width="3.6" height="15.20"/>
<rect x="241.31" y="1119.40" width="3.6" height="15.20"/>
<rect x="293.89" y="1119.40" width="3.6" height="15.20"/>
<rect x="346.47" y="1119.40" width="3.6" height="15.20"/>
<rect x="399.05" y="1119.40" width="3.6" height="15.20"/>
<rect x="451.63" y="1119.40" width="3.6" height="15.20"/>
<rect x="504.21" y="1119.40" width="3.6" height="15.20"/>
<rect x="556.79" y="1119.40" width="3.6" height="15.20"/>
<rect x="609.37" y="1119.40" width="3.6" height="15.20"/>
<circle cx="411.37" cy="717.59" r="3.6"/>
<circle cx="432.40" cy="717.59" r="3.6"/>
<circle cx="463.95" cy="717.59" r="3.6"/>
<circle cx="506.01" cy="717.59" r="3.6"/>
<circle cx="516.53" cy="717.59" r="3.6"/>
<circle cx="300.95" cy="732.47" r="3.6"/>
<circle cx="432.40" cy="732.47" r="3.6"/>
<circle cx="479.72" cy="732.47" r="3.6"/>
<circle cx="506.01" cy="732.47" r="3.6"/>
<circle cx="437.66" cy="747.35" r="3.6"/>
<circle cx="484.98" cy="747.35" r="3.6"/>
<circle cx="521.78" cy="747.35" r="3.6"/>
<circle cx="479.72" cy="762.23" r="3.6"/>
<circle cx="484.98" cy="762.23" r="3.6"/>
<circle cx="432.40" cy="777.11" r="3.6"/>
<circle cx="458.69" cy="777.11" r="3.6"/>
<circle cx="479.72" cy="777.11" r="3.6"/>
<circle cx="332.50" cy="792.00" r="3.6"/>
<circle cx="406.11" cy="792.00" r="3.6"/>
<circle cx="416.62" cy="792.00" r="3.6"/>
<circle cx="374.56" cy="806.88" r="3.6"/>
<circle cx="395.59" cy="806.88" r="3.6"/>
<circle cx="400.85" cy="806.88" r="3.6"/>
<circle cx="432.40" cy="806.88" r="3.6"/>
<circle cx="448.17" cy="806.88" r="3.6"/>
<circle cx="458.69" cy="806.88" r="3.6"/>
<circle cx="479.72" cy="806.88" r="3.6"/>
<circle cx="484.98" cy="806.88" r="3.6"/>
<circle cx="506.01" cy="806.88" r="3.6"/>
<circle cx="511.27" cy="806.88" r="3.6"/>
<circle cx="406.11" cy="821.76" r="3.6"/>
<circle cx="427.14" cy="821.76" r="3.6"/>
<circle cx="453.43" cy="821.76" r="3.6"/>
<circle cx="463.95" cy="821.76" r="3.6"/>
<circle cx="479.72" cy="821.76" r="3.6"/>
<circle cx="516.53" cy="821.76" r="3.6"/>
<circle cx="290.43" cy="836.64" r="3.6"/>
<circle cx="343.01" cy="836.64" r="3.6"/>
<circle cx="411.37" cy="836.64" r="3.6"/>
<circle cx="421.88" cy="836.64" r="3.6"/>
<circle cx="437.66" cy="836.64" r="3.6"/>
<circle cx="442.91" cy="836.64" r="3.6"/>
<circle cx="458.69" cy="836.64" r="3.6"/>
<circle cx="469.20" cy="836.64" r="3.6"/>
<circle cx="474.46" cy="836.64" r="3.6"/>
<circle cx="479.72" cy="836.64" r="3.6"/>
<circle cx="495.49" cy="836.64" r="3.6"/>
<circle cx="506.01" cy="836.64" r="3.6"/>
<circle cx="532.30" cy="836.64" r="3.6"/>
<circle cx="358.79" cy="851.52" r="3.6"/>
<circle cx="364.04" cy="851.52" r="3.6"/>
<circle cx="374.56" cy="851.52" r="3.6"/>
<circle cx="385.08" cy="851.52" r="3.6"/>
<circle cx="395.59" cy="851.52" r="3.6"/>
<circle cx="411.37" cy="851.52" r="3.6"/>
<circle cx="416.62" cy="851.52" r="3.6"/>
<circle cx="427.14" cy="851.52" r="3.6"/>
<circle cx="432.40" cy="851.52" r="3.6"/>
<circle cx="442.91" cy="851.52" r="3.6"/>
<circle cx="448.17" cy="851.52" r="3.6"/>
<circle cx="463.95" cy="851.52" r="3.6"/>
<circle cx="474.46" cy="851.52" r="3.6"/>
<circle cx="479.72" cy="851.52" r="3.6"/>
<circle cx="484.98" cy="851.52" r="3.6"/>
<circle cx="490.24" cy="851.52" r="3.6"/>
<circle cx="527.04" cy="851.52" r="3.6"/>
<circle cx="364.04" cy="866.41" r="3.6"/>
<circle cx="385.08" cy="866.41" r="3.6"/>
<circle cx="395.59" cy="866.41" r="3.6"/>
<circle cx="411.37" cy="866.41" r="3.6"/>
<circle cx="416.62" cy="866.41" r="3.6"/>
<circle cx="421.88" cy="866.41" r="3.6"/>
<circle cx="427.14" cy="866.41" r="3.6"/>
<circle cx="432.40" cy="866.41" r="3.6"/>
<circle cx="448.17" cy="866.41" r="3.6"/>
<circle cx="458.69" cy="866.41" r="3.6"/>
<circle cx="463.95" cy="866.41" r="3.6"/>
<circle cx="469.20" cy="866.41" r="3.6"/>
<circle cx="479.72" cy="866.41" r="3.6"/>
<circle cx="490.24" cy="866.41" r="3.6"/>
<circle cx="495.49" cy="866.41" r="3.6"/>
<circle cx="500.75" cy="866.41" r="3.6"/>
<circle cx="337.75" cy="881.29" r="3.6"/>
<circle cx="343.01" cy="881.29" r="3.6"/>
<circle cx="353.53" cy="881.29" r="3.6"/>
<circle cx="374.56" cy="881.29" r="3.6"/>
<circle cx="379.82" cy="881.29" r="3.6"/>
<circle cx="406.11" cy="881.29" r="3.6"/>
<circle cx="421.88" cy="881.29" r="3.6"/>
<circle cx="427.14" cy="881.29" r="3.6"/>
<circle cx="437.66" cy="881.29" r="3.6"/>
<circle cx="442.91" cy="881.29" r="3.6"/>
<circle cx="453.43" cy="881.29" r="3.6"/>
<circle cx="479.72" cy="881.29" r="3.6"/>
<circle cx="269.40" cy="896.17" r="3.6"/>
<circle cx="332.50" cy="896.17" r="3.6"/>
<circle cx="358.79" cy="896.17" r="3.6"/>
<circle cx="364.04" cy="896.17" r="3.6"/>
<circle cx="369.30" cy="896.17" r="3.6"/>
<circle cx="374.56" cy="896.17" r="3.6"/>
<circle cx="379.82" cy="896.17" r="3.6"/>
<circle cx="395.59" cy="896.17" r="3.6"/>
<circle cx="400.85" cy="896.17" r="3.6"/>
<circle cx="406.11" cy="896.17" r="3.6"/>
<circle cx="416.62" cy="896.17" r="3.6"/>
<circle cx="432.40" cy="896.17" r="3.6"/>
<circle cx="437.66" cy="896.17" r="3.6"/>
<circle cx="495.49" cy="896.17" r="3.6"/>
<circle cx="316.72" cy="911.05" r="3.6"/>
<circle cx="343.01" cy="911.05" r="3.6"/>
<circle cx="358.79" cy="911.05" r="3.6"/>
<circle cx="369.30" cy="911.05" r="3.6"/>
<circle cx="379.82" cy="911.05" r="3.6"/>
<circle cx="385.08" cy="911.05" r="3.6"/>
<circle cx="390.33" cy="911.05" r="3.6"/>
<circle cx="395.59" cy="911.05" r="3.6"/>
<circle cx="400.85" cy="911.05" r="3.6"/>
<circle cx="421.88" cy="911.05" r="3.6"/>
<circle cx="427.14" cy="911.05" r="3.6"/>
<circle cx="432.40" cy="911.05" r="3.6"/>
<circle cx="448.17" cy="911.05" r="3.6"/>
<circle cx="453.43" cy="911.05" r="3.6"/>
<circle cx="469.20" cy="911.05" r="3.6"/>
<circle cx="474.46" cy="911.05" r="3.6"/>
<circle cx="490.24" cy="911.05" r="3.6"/>
<circle cx="500.75" cy="911.05" r="3.6"/>
<circle cx="511.27" cy="911.05" r="3.6"/>
<circle cx="243.11" cy="925.93" r="3.6"/>
<circle cx="300.95" cy="925.93" r="3.6"/>
<circle cx="332.50" cy="925.93" r="3.6"/>
<circle cx="337.75" cy="925.93" r="3.6"/>
<circle cx="348.27" cy="925.93" r="3.6"/>
<circle cx="358.79" cy="925.93" r="3.6"/>
<circle cx="374.56" cy="925.93" r="3.6"/>
<circle cx="379.82" cy="925.93" r="3.6"/>
<circle cx="390.33" cy="925.93" r="3.6"/>
<circle cx="406.11" cy="925.93" r="3.6"/>
<circle cx="421.88" cy="925.93" r="3.6"/>
<circle cx="437.66" cy="925.93" r="3.6"/>
<circle cx="448.17" cy="925.93" r="3.6"/>
<circle cx="458.69" cy="925.93" r="3.6"/>
<circle cx="463.95" cy="925.93" r="3.6"/>
<circle cx="474.46" cy="925.93" r="3.6"/>
<circle cx="253.63" cy="940.82" r="3.6"/>
<circle cx="264.14" cy="940.82" r="3.6"/>
<circle cx="269.40" cy="940.82" r="3.6"/>
<circle cx="306.21" cy="940.82" r="3.6"/>
<circle cx="332.50" cy="940.82" r="3.6"/>
<circle cx="337.75" cy="940.82" r="3.6"/>
<circle cx="348.27" cy="940.82" r="3.6"/>
<circle cx="353.53" cy="940.82" r="3.6"/>
<circle cx="358.79" cy="940.82" r="3.6"/>
<circle cx="364.04" cy="940.82" r="3.6"/>
<circle cx="369.30" cy="940.82" r="3.6"/>
<circle cx="374.56" cy="940.82" r="3.6"/>
<circle cx="379.82" cy="940.82" r="3.6"/>
<circle cx="385.08" cy="940.82" r="3.6"/>
<circle cx="395.59" cy="940.82" r="3.6"/>
<circle cx="416.62" cy="940.82" r="3.6"/>
<circle cx="427.14" cy="940.82" r="3.6"/>
<circle cx="432.40" cy="940.82" r="3.6"/>
<circle cx="437.66" cy="940.82" r="3.6"/>
<circle cx="453.43" cy="940.82" r="3.6"/>
<circle cx="469.20" cy="940.82" r="3.6"/>
<circle cx="300.95" cy="955.70" r="3.6"/>
<circle cx="311.46" cy="955.70" r="3.6"/>
<circle cx="327.24" cy="955.70" r="3.6"/>
<circle cx="332.50" cy="955.70" r="3.6"/>
<circle cx="337.75" cy="955.70" r="3.6"/>
<circle cx="343.01" cy="955.70" r="3.6"/>
<circle cx="348.27" cy="955.70" r="3.6"/>
<circle cx="353.53" cy="955.70" r="3.6"/>
<circle cx="358.79" cy="955.70" r="3.6"/>
<circle cx="364.04" cy="955.70" r="3.6"/>
<circle cx="385.08" cy="955.70" r="3.6"/>
<circle cx="390.33" cy="955.70" r="3.6"/>
<circle cx="395.59" cy="955.70" r="3.6"/>
<circle cx="400.85" cy="955.70" r="3.6"/>
<circle cx="406.11" cy="955.70" r="3.6"/>
<circle cx="411.37" cy="955.70" r="3.6"/>
<circle cx="416.62" cy="955.70" r="3.6"/>
<circle cx="421.88" cy="955.70" r="3.6"/>
<circle cx="427.14" cy="955.70" r="3.6"/>
<circle cx="432.40" cy="955.70" r="3.6"/>
<circle cx="442.91" cy="955.70" r="3.6"/>
<circle cx="453.43" cy="955.70" r="3.6"/>
<circle cx="474.46" cy="955.70" r="3.6"/>
<circle cx="484.98" cy="955.70" r="3.6"/>
<circle cx="495.49" cy="955.70" r="3.6"/>
<circle cx="285.17" cy="970.58" r="3.6"/>
<circle cx="306.21" cy="970.58" r="3.6"/>
<circle cx="311.46" cy="970.58" r="3.6"/>
<circle cx="321.98" cy="970.58" r="3.6"/>
<circle cx="327.24" cy="970.58" r="3.6"/>
<circle cx="332.50" cy="970.58" r="3.6"/>
<circle cx="337.75" cy="970.58" r="3.6"/>
<circle cx="343.01" cy="970.58" r="3.6"/>
<circle cx="348.27" cy="970.58" r="3.6"/>
<circle cx="353.53" cy="970.58" r="3.6"/>
<circle cx="358.79" cy="970.58" r="3.6"/>
<circle cx="364.04" cy="970.58" r="3.6"/>
<circle cx="369.30" cy="970.58" r="3.6"/>
<circle cx="374.56" cy="970.58" r="3.6"/>
<circle cx="379.82" cy="970.58" r="3.6"/>
<circle cx="385.08" cy="970.58" r="3.6"/>
<circle cx="390.33" cy="970.58" r="3.6"/>
<circle cx="395.59" cy="970.58" r="3.6"/>
<circle cx="400.85" cy="970.58" r="3.6"/>
<circle cx="406.11" cy="970.58" r="3.6"/>
<circle cx="411.37" cy="970.58" r="3.6"/>
<circle cx="416.62" cy="970.58" r="3.6"/>
<circle cx="421.88" cy="970.58" r="3.6"/>
<circle cx="427.14" cy="970.58" r="3.6"/>
<circle cx="432.40" cy="970.58" r="3.6"/>
<circle cx="442.91" cy="970.58" r="3.6"/>
<circle cx="469.20" cy="970.58" r="3.6"/>
<circle cx="474.46" cy="970.58" r="3.6"/>
<circle cx="274.66" cy="985.46" r="3.6"/>
<circle cx="279.92" cy="985.46" r="3.6"/>
<circle cx="295.69" cy="985.46" r="3.6"/>
<circle cx="306.21" cy="985.46" r="3.6"/>
<circle cx="321.98" cy="985.46" r="3.6"/>
<circle cx="327.24" cy="985.46" r="3.6"/>
<circle cx="343.01" cy="985.46" r="3.6"/>
<circle cx="348.27" cy="985.46" r="3.6"/>
<circle cx="353.53" cy="985.46" r="3.6"/>
<circle cx="358.79" cy="985.46" r="3.6"/>
<circle cx="364.04" cy="985.46" r="3.6"/>
<circle cx="369.30" cy="985.46" r="3.6"/>
<circle cx="374.56" cy="985.46" r="3.6"/>
<circle cx="379.82" cy="985.46" r="3.6"/>
<circle cx="385.08" cy="985.46" r="3.6"/>
<circle cx="390.33" cy="985.46" r="3.6"/>
<circle cx="395.59" cy="985.46" r="3.6"/>
<circle cx="400.85" cy="985.46" r="3.6"/>
<circle cx="406.11" cy="985.46" r="3.6"/>
<circle cx="411.37" cy="985.46" r="3.6"/>
<circle cx="421.88" cy="985.46" r="3.6"/>
<circle cx="442.91" cy="985.46" r="3.6"/>
<circle cx="458.69" cy="985.46" r="3.6"/>
<circle cx="279.92" cy="1000.34" r="3.6"/>
<circle cx="285.17" cy="1000.34" r="3.6"/>
<circle cx="290.43" cy="1000.34" r="3.6"/>
<circle cx="295.69" cy="1000.34" r="3.6"/>
<circle cx="300.95" cy="1000.34" r="3.6"/>
<circle cx="311.46" cy="1000.34" r="3.6"/>
<circle cx="316.72" cy="1000.34" r="3.6"/>
<circle cx="327.24" cy="1000.34" r="3.6"/>
<circle cx="332.50" cy="1000.34" r="3.6"/>
<circle cx="343.01" cy="1000.34" r="3.6"/>
<circle cx="348.27" cy="1000.34" r="3.6"/>
<circle cx="353.53" cy="1000.34" r="3.6"/>
<circle cx="358.79" cy="1000.34" r="3.6"/>
<circle cx="364.04" cy="1000.34" r="3.6"/>
<circle cx="369.30" cy="1000.34" r="3.6"/>
<circle cx="374.56" cy="1000.34" r="3.6"/>
<circle cx="379.82" cy="1000.34" r="3.6"/>
<circle cx="385.08" cy="1000.34" r="3.6"/>
<circle cx="390.33" cy="1000.34" r="3.6"/>
<circle cx="395.59" cy="1000.34" r="3.6"/>
<circle cx="400.85" cy="1000.34" r="3.6"/>
<circle cx="406.11" cy="1000.34" r="3.6"/>
<circle cx="411.37" cy="1000.34" r="3.6"/>
<circle cx="421.88" cy="1000.34" r="3.6"/>
<circle cx="432.40" cy="1000.34" r="3.6"/>
<circle cx="437.66" cy="1000.34" r="3.6"/>
<circle cx="442.91" cy="1000.34" r="3.6"/>
<circle cx="448.17" cy="1000.34" r="3.6"/>
<circle cx="495.49" cy="1000.34" r="3.6"/>
<circle cx="264.14" cy="1015.23" r="3.6"/>
<circle cx="279.92" cy="1015.23" r="3.6"/>
<circle cx="290.43" cy="1015.23" r="3.6"/>
<circle cx="306.21" cy="1015.23" r="3.6"/>
<circle cx="311.46" cy="1015.23" r="3.6"/>
<circle cx="316.72" cy="1015.23" r="3.6"/>
<circle cx="321.98" cy="1015.23" r="3.6"/>
<circle cx="327.24" cy="1015.23" r="3.6"/>
<circle cx="332.50" cy="1015.23" r="3.6"/>
<circle cx="337.75" cy="1015.23" r="3.6"/>
<circle cx="348.27" cy="1015.23" r="3.6"/>
<circle cx="353.53" cy="1015.23" r="3.6"/>
<circle cx="358.79" cy="1015.23" r="3.6"/>
<circle cx="364.04" cy="1015.23" r="3.6"/>
<circle cx="369.30" cy="1015.23" r="3.6"/>
<circle cx="374.56" cy="1015.23" r="3.6"/>
<circle cx="379.82" cy="1015.23" r="3.6"/>
<circle cx="385.08" cy="1015.23" r="3.6"/>
<circle cx="390.33" cy="1015.23" r="3.6"/>
<circle cx="395.59" cy="1015.23" r="3.6"/>
<circle cx="400.85" cy="1015.23" r="3.6"/>
<circle cx="406.11" cy="1015.23" r="3.6"/>
<circle cx="411.37" cy="1015.23" r="3.6"/>
<circle cx="416.62" cy="1015.23" r="3.6"/>
<circle cx="421.88" cy="1015.23" r="3.6"/>
<circle cx="427.14" cy="1015.23" r="3.6"/>
<circle cx="448.17" cy="1015.23" r="3.6"/>
<circle cx="453.43" cy="1015.23" r="3.6"/>
<circle cx="479.72" cy="1015.23" r="3.6"/>
<circle cx="500.75" cy="1015.23" r="3.6"/>
<circle cx="511.27" cy="1015.23" r="3.6"/>
<circle cx="274.66" cy="1030.11" r="3.6"/>
<circle cx="290.43" cy="1030.11" r="3.6"/>
<circle cx="295.69" cy="1030.11" r="3.6"/>
<circle cx="300.95" cy="1030.11" r="3.6"/>
<circle cx="306.21" cy="1030.11" r="3.6"/>
<circle cx="311.46" cy="1030.11" r="3.6"/>
<circle cx="316.72" cy="1030.11" r="3.6"/>
<circle cx="321.98" cy="1030.11" r="3.6"/>
<circle cx="327.24" cy="1030.11" r="3.6"/>
<circle cx="337.75" cy="1030.11" r="3.6"/>
<circle cx="343.01" cy="1030.11" r="3.6"/>
<circle cx="348.27" cy="1030.11" r="3.6"/>
<circle cx="353.53" cy="1030.11" r="3.6"/>
<circle cx="358.79" cy="1030.11" r="3.6"/>
<circle cx="369.30" cy="1030.11" r="3.6"/>
<circle cx="374.56" cy="1030.11" r="3.6"/>
<circle cx="379.82" cy="1030.11" r="3.6"/>
<circle cx="385.08" cy="1030.11" r="3.6"/>
<circle cx="390.33" cy="1030.11" r="3.6"/>
<circle cx="395.59" cy="1030.11" r="3.6"/>
<circle cx="400.85" cy="1030.11" r="3.6"/>
<circle cx="406.11" cy="1030.11" r="3.6"/>
<circle cx="411.37" cy="1030.11" r="3.6"/>
<circle cx="416.62" cy="1030.11" r="3.6"/>
<circle cx="427.14" cy="1030.11" r="3.6"/>
<circle cx="432.40" cy="1030.11" r="3.6"/>
<circle cx="442.91" cy="1030.11" r="3.6"/>
<circle cx="448.17" cy="1030.11" r="3.6"/>
<circle cx="453.43" cy="1030.11" r="3.6"/>
<circle cx="285.17" cy="1044.99" r="3.6"/>
<circle cx="290.43" cy="1044.99" r="3.6"/>
<circle cx="306.21" cy="1044.99" r="3.6"/>
<circle cx="311.46" cy="1044.99" r="3.6"/>
<circle cx="316.72" cy="1044.99" r="3.6"/>
<circle cx="321.98" cy="1044.99" r="3.6"/>
<circle cx="327.24" cy="1044.99" r="3.6"/>
<circle cx="332.50" cy="1044.99" r="3.6"/>
<circle cx="337.75" cy="1044.99" r="3.6"/>
<circle cx="343.01" cy="1044.99" r="3.6"/>
<circle cx="348.27" cy="1044.99" r="3.6"/>
<circle cx="353.53" cy="1044.99" r="3.6"/>
<circle cx="358.79" cy="1044.99" r="3.6"/>
<circle cx="364.04" cy="1044.99" r="3.6"/>
<circle cx="369.30" cy="1044.99" r="3.6"/>
<circle cx="374.56" cy="1044.99" r="3.6"/>
<circle cx="379.82" cy="1044.99" r="3.6"/>
<circle cx="385.08" cy="1044.99" r="3.6"/>
<circle cx="390.33" cy="1044.99" r="3.6"/>
<circle cx="395.59" cy="1044.99" r="3.6"/>
<circle cx="400.85" cy="1044.99" r="3.6"/>
<circle cx="411.37" cy="1044.99" r="3.6"/>
<circle cx="421.88" cy="1044.99" r="3.6"/>
<circle cx="432.40" cy="1044.99" r="3.6"/>
<circle cx="448.17" cy="1044.99" r="3.6"/>
<circle cx="458.69" cy="1044.99" r="3.6"/>
<circle cx="474.46" cy="1044.99" r="3.6"/>
<circle cx="490.24" cy="1044.99" r="3.6"/>
<circle cx="495.49" cy="1044.99" r="3.6"/>
<circle cx="269.40" cy="1059.87" r="3.6"/>
<circle cx="274.66" cy="1059.87" r="3.6"/>
<circle cx="279.92" cy="1059.87" r="3.6"/>
<circle cx="285.17" cy="1059.87" r="3.6"/>
<circle cx="290.43" cy="1059.87" r="3.6"/>
<circle cx="295.69" cy="1059.87" r="3.6"/>
<circle cx="300.95" cy="1059.87" r="3.6"/>
<circle cx="306.21" cy="1059.87" r="3.6"/>
<circle cx="311.46" cy="1059.87" r="3.6"/>
<circle cx="316.72" cy="1059.87" r="3.6"/>
<circle cx="321.98" cy="1059.87" r="3.6"/>
<circle cx="327.24" cy="1059.87" r="3.6"/>
<circle cx="332.50" cy="1059.87" r="3.6"/>
<circle cx="337.75" cy="1059.87" r="3.6"/>
<circle cx="343.01" cy="1059.87" r="3.6"/>
<circle cx="348.27" cy="1059.87" r="3.6"/>
<circle cx="353.53" cy="1059.87" r="3.6"/>
<circle cx="358.79" cy="1059.87" r="3.6"/>
<circle cx="364.04" cy="1059.87" r="3.6"/>
<circle cx="369.30" cy="1059.87" r="3.6"/>
<circle cx="374.56" cy="1059.87" r="3.6"/>
<circle cx="379.82" cy="1059.87" r="3.6"/>
<circle cx="385.08" cy="1059.87" r="3.6"/>
<circle cx="390.33" cy="1059.87" r="3.6"/>
<circle cx="395.59" cy="1059.87" r="3.6"/>
<circle cx="400.85" cy="1059.87" r="3.6"/>
<circle cx="406.11" cy="1059.87" r="3.6"/>
<circle cx="411.37" cy="1059.87" r="3.6"/>
<circle cx="416.62" cy="1059.87" r="3.6"/>
<circle cx="421.88" cy="1059.87" r="3.6"/>
<circle cx="432.40" cy="1059.87" r="3.6"/>
<circle cx="448.17" cy="1059.87" r="3.6"/>
<circle cx="243.11" cy="1074.75" r="3.6"/>
<circle cx="253.63" cy="1074.75" r="3.6"/>
<circle cx="258.88" cy="1074.75" r="3.6"/>
<circle cx="269.40" cy="1074.75" r="3.6"/>
<circle cx="274.66" cy="1074.75" r="3.6"/>
<circle cx="279.92" cy="1074.75" r="3.6"/>
<circle cx="285.17" cy="1074.75" r="3.6"/>
<circle cx="290.43" cy="1074.75" r="3.6"/>
<circle cx="295.69" cy="1074.75" r="3.6"/>
<circle cx="300.95" cy="1074.75" r="3.6"/>
<circle cx="306.21" cy="1074.75" r="3.6"/>
<circle cx="311.46" cy="1074.75" r="3.6"/>
<circle cx="316.72" cy="1074.75" r="3.6"/>
<circle cx="321.98" cy="1074.75" r="3.6"/>
<circle cx="327.24" cy="1074.75" r="3.6"/>
<circle cx="332.50" cy="1074.75" r="3.6"/>
<circle cx="337.75" cy="1074.75" r="3.6"/>
<circle cx="343.01" cy="1074.75" r="3.6"/>
<circle cx="348.27" cy="1074.75" r="3.6"/>
<circle cx="353.53" cy="1074.75" r="3.6"/>
<circle cx="358.79" cy="1074.75" r="3.6"/>
<circle cx="369.30" cy="1074.75" r="3.6"/>
<circle cx="374.56" cy="1074.75" r="3.6"/>
<circle cx="379.82" cy="1074.75" r="3.6"/>
<circle cx="385.08" cy="1074.75" r="3.6"/>
<circle cx="390.33" cy="1074.75" r="3.6"/>
<circle cx="400.85" cy="1074.75" r="3.6"/>
<circle cx="406.11" cy="1074.75" r="3.6"/>
<circle cx="427.14" cy="1074.75" r="3.6"/>
<circle cx="437.66" cy="1074.75" r="3.6"/>
<circle cx="453.43" cy="1074.75" r="3.6"/>
<circle cx="463.95" cy="1074.75" r="3.6"/>
<circle cx="264.14" cy="1089.64" r="3.6"/>
<circle cx="269.40" cy="1089.64" r="3.6"/>
<circle cx="274.66" cy="1089.64" r="3.6"/>
<circle cx="279.92" cy="1089.64" r="3.6"/>
<circle cx="285.17" cy="1089.64" r="3.6"/>
<circle cx="290.43" cy="1089.64" r="3.6"/>
<circle cx="295.69" cy="1089.64" r="3.6"/>
<circle cx="300.95" cy="1089.64" r="3.6"/>
<circle cx="306.21" cy="1089.64" r="3.6"/>
<circle cx="311.46" cy="1089.64" r="3.6"/>
<circle cx="316.72" cy="1089.64" r="3.6"/>
<circle cx="321.98" cy="1089.64" r="3.6"/>
<circle cx="327.24" cy="1089.64" r="3.6"/>
<circle cx="332.50" cy="1089.64" r="3.6"/>
<circle cx="337.75" cy="1089.64" r="3.6"/>
<circle cx="343.01" cy="1089.64" r="3.6"/>
<circle cx="348.27" cy="1089.64" r="3.6"/>
<circle cx="353.53" cy="1089.64" r="3.6"/>
<circle cx="358.79" cy="1089.64" r="3.6"/>
<circle cx="364.04" cy="1089.64" r="3.6"/>
<circle cx="369.30" cy="1089.64" r="3.6"/>
<circle cx="374.56" cy="1089.64" r="3.6"/>
<circle cx="379.82" cy="1089.64" r="3.6"/>
<circle cx="385.08" cy="1089.64" r="3.6"/>
<circle cx="390.33" cy="1089.64" r="3.6"/>
<circle cx="400.85" cy="1089.64" r="3.6"/>
<circle cx="421.88" cy="1089.64" r="3.6"/>
<circle cx="253.63" cy="1104.52" r="3.6"/>
<circle cx="258.88" cy="1104.52" r="3.6"/>
<circle cx="264.14" cy="1104.52" r="3.6"/>
<circle cx="269.40" cy="1104.52" r="3.6"/>
<circle cx="274.66" cy="1104.52" r="3.6"/>
<circle cx="279.92" cy="1104.52" r="3.6"/>
<circle cx="285.17" cy="1104.52" r="3.6"/>
<circle cx="290.43" cy="1104.52" r="3.6"/>
<circle cx="295.69" cy="1104.52" r="3.6"/>
<circle cx="300.95" cy="1104.52" r="3.6"/>
<circle cx="306.21" cy="1104.52" r="3.6"/>
<circle cx="311.46" cy="1104.52" r="3.6"/>
<circle cx="316.72" cy="1104.52" r="3.6"/>
<circle cx="321.98" cy="1104.52" r="3.6"/>
<circle cx="327.24" cy="1104.52" r="3.6"/>
<circle cx="332.50" cy="1104.52" r="3.6"/>
<circle cx="337.75" cy="1104.52" r="3.6"/>
<circle cx="343.01" cy="1104.52" r="3.6"/>
<circle cx="348.27" cy="1104.52" r="3.6"/>
<circle cx="353.53" cy="1104.52" r="3.6"/>
<circle cx="358.79" cy="1104.52" r="3.6"/>
<circle cx="364.04" cy="1104.52" r="3.6"/>
<circle cx="369.30" cy="1104.52" r="3.6"/>
<circle cx="374.56" cy="1104.52" r="3.6"/>
<circle cx="411.37" cy="1104.52" r="3.6"/>
<circle cx="421.88" cy="1104.52" r="3.6"/>
<circle cx="243.11" cy="1119.40" r="3.6"/>
<circle cx="248.37" cy="1119.40" r="3.6"/>
<circle cx="253.63" cy="1119.40" r="3.6"/>
<circle cx="258.88" cy="1119.40" r="3.6"/>
<circle cx="264.14" cy="1119.40" r="3.6"/>
<circle cx="269.40" cy="1119.40" r="3.6"/>
<circle cx="274.66" cy="1119.40" r="3.6"/>
<circle cx="279.92" cy="1119.40" r="3.6"/>
<circle cx="285.17" cy="1119.40" r="3.6"/>
<circle cx="290.43" cy="1119.40" r="3.6"/>
<circle cx="295.69" cy="1119.40" r="3.6"/>
<circle cx="300.95" cy="1119.40" r="3.6"/>
<circle cx="306.21" cy="1119.40" r="3.6"/>
<circle cx="311.46" cy="1119.40" r="3.6"/>
<circle cx="316.72" cy="1119.40" r="3.6"/>
<circle cx="321.98" cy="1119.40" r="3.6"/>
<circle cx="327.24" cy="1119.40" r="3.6"/>
<circle cx="332.50" cy="1119.40" r="3.6"/>
<circle cx="337.75" cy="1119.40" r="3.6"/>
<circle cx="343.01" cy="1119.40" r="3.6"/>
<circle cx="348.27" cy="1119.40" r="3.6"/>
<circle cx="353.53" cy="1119.40" r="3.6"/>
<circle cx="364.04" cy="1119.40" r="3.6"/>
<circle cx="369.30" cy="1119.40" r="3.6"/>
<circle cx="374.56" cy="1119.40" r="3.6"/>
<circle cx="390.33" cy="1119.40" r="3.6"/>
<circle cx="395.59" cy="1119.40" r="3.6"/>
<circle cx="421.88" cy="1119.40" r="3.6"/>
<circle cx="448.17" cy="1119.40" r="3.6"/>
<circle cx="558.59" cy="1119.40" r="3.6"/>
<line x1="254.1" y1="1119.0" x2="557.6" y2="826.5" stroke="#000" stroke-width="3"/>
</g>
<g>
<rect x="834.20" y="681.35" width="3.7" height="442.15"/>
<rect x="820.30" y="1119.90" width="519.85" height="3.6"/>
<rect x="820.20" y="1046.85" width="15.85" height="3.5"/>
<rect x="820.20" y="973.75" width="15.85" height="3.5"/>
<rect x="820.20" y="900.65" width="15.85" height="3.5"/>
<rect x="820.20" y="827.55" width="15.85" height="3.5"/>
<rect x="820.20" y="754.45" width="15.85" height="3.5"/>
<rect x="820.20" y="681.35" width="15.85" height="3.5"/>
<rect x="834.30" y="1121.70" width="3.5" height="14.90"/>
<rect x="918.02" y="1121.70" width="3.5" height="14.90"/>
<rect x="1001.75" y="1121.70" width="3.5" height="14.90"/>
<rect x="1085.47" y="1121.70" width="3.5" height="14.90"/>
<rect x="1169.20" y="1121.70" width="3.5" height="14.90"/>
<rect x="1252.92" y="1121.70" width="3.5" height="14.90"/>
<rect x="1336.65" y="1121.70" width="3.5" height="14.90"/>
<circle cx="1004.04" cy="727.02" r="3.6"/>
<circle cx="1054.30" cy="727.02" r="3.6"/>
<circle cx="1071.06" cy="727.02" r="3.6"/>
<circle cx="1138.07" cy="727.02" r="3.6"/>
<circle cx="1188.33" cy="727.02" r="3.6"/>
<circle cx="970.53" cy="741.66" r="3.6"/>
<circle cx="987.29" cy="741.66" r="3.6"/>
<circle cx="1054.30" cy="741.66" r="3.6"/>
<circle cx="1104.56" cy="741.66" r="3.6"/>
<circle cx="1020.79" cy="756.30" r="3.6"/>
<circle cx="1054.30" cy="756.30" r="3.6"/>
<circle cx="1255.35" cy="756.30" r="3.6"/>
<circle cx="1037.55" cy="770.94" r="3.6"/>
<circle cx="1272.10" cy="770.94" r="3.6"/>
<circle cx="1004.04" cy="785.58" r="3.6"/>
<circle cx="1054.30" cy="785.58" r="3.6"/>
<circle cx="1071.06" cy="785.58" r="3.6"/>
<circle cx="1087.81" cy="785.58" r="3.6"/>
<circle cx="953.78" cy="800.22" r="3.6"/>
<circle cx="970.53" cy="800.22" r="3.6"/>
<circle cx="987.29" cy="800.22" r="3.6"/>
<circle cx="1171.58" cy="800.22" r="3.6"/>
<circle cx="1020.79" cy="814.86" r="3.6"/>
<circle cx="1037.55" cy="814.86" r="3.6"/>
<circle cx="1054.30" cy="814.86" r="3.6"/>
<circle cx="1071.06" cy="814.86" r="3.6"/>
<circle cx="1087.81" cy="814.86" r="3.6"/>
<circle cx="1104.56" cy="814.86" r="3.6"/>
<circle cx="1138.07" cy="814.86" r="3.6"/>
<circle cx="1188.33" cy="814.86" r="3.6"/>
<circle cx="1020.79" cy="829.50" r="3.6"/>
<circle cx="1037.55" cy="829.50" r="3.6"/>
<circle cx="1054.30" cy="829.50" r="3.6"/>
<circle cx="1087.81" cy="829.50" r="3.6"/>
<circle cx="1138.07" cy="829.50" r="3.6"/>
<circle cx="1221.84" cy="829.50" r="3.6"/>
<circle cx="1305.61" cy="829.50" r="3.6"/>
<circle cx="903.52" cy="844.14" r="3.6"/>
<circle cx="1020.79" cy="844.14" r="3.6"/>
<circle cx="1037.55" cy="844.14" r="3.6"/>
<circle cx="1054.30" cy="844.14" r="3.6"/>
<circle cx="1071.06" cy="844.14" r="3.6"/>
<circle cx="1087.81" cy="844.14" r="3.6"/>
<circle cx="1104.56" cy="844.14" r="3.6"/>
<circle cx="1138.07" cy="844.14" r="3.6"/>
<circle cx="1154.83" cy="844.14" r="3.6"/>
<circle cx="1221.84" cy="844.14" r="3.6"/>
<circle cx="1255.35" cy="844.14" r="3.6"/>
<circle cx="953.78" cy="858.78" r="3.6"/>
<circle cx="987.29" cy="858.78" r="3.6"/>
<circle cx="1020.79" cy="858.78" r="3.6"/>
<circle cx="1037.55" cy="858.78" r="3.6"/>
<circle cx="1054.30" cy="858.78" r="3.6"/>
<circle cx="1071.06" cy="858.78" r="3.6"/>
<circle cx="1087.81" cy="858.78" r="3.6"/>
<circle cx="1104.56" cy="858.78" r="3.6"/>
<circle cx="1121.32" cy="858.78" r="3.6"/>
<circle cx="1154.83" cy="858.78" r="3.6"/>
<circle cx="1171.58" cy="858.78" r="3.6"/>
<circle cx="1238.60" cy="858.78" r="3.6"/>
<circle cx="1305.61" cy="858.78" r="3.6"/>
<circle cx="970.53" cy="873.42" r="3.6"/>
<circle cx="987.29" cy="873.42" r="3.6"/>
<circle cx="1004.04" cy="873.42" r="3.6"/>
<circle cx="1020.79" cy="873.42" r="3.6"/>
<circle cx="1037.55" cy="873.42" r="3.6"/>
<circle cx="1071.06" cy="873.42" r="3.6"/>
<circle cx="1087.81" cy="873.42" r="3.6"/>
<circle cx="1104.56" cy="873.42" r="3.6"/>
<circle cx="1121.32" cy="873.42" r="3.6"/>
<circle cx="1138.07" cy="873.42" r="3.6"/>
<circle cx="1171.58" cy="873.42" r="3.6"/>
<circle cx="1188.33" cy="873.42" r="3.6"/>
<circle cx="1255.35" cy="873.42" r="3.6"/>
<circle cx="903.52" cy="888.06" r="3.6"/>
<circle cx="1004.04" cy="888.06" r="3.6"/>
<circle cx="1020.79" cy="888.06" r="3.6"/>
<circle cx="1037.55" cy="888.06" r="3.6"/>
<circle cx="1054.30" cy="888.06" r="3.6"/>
<circle cx="1087.81" cy="888.06" r="3.6"/>
<circle cx="1104.56" cy="888.06" r="3.6"/>
<circle cx="1121.32" cy="888.06" r="3.6"/>
<circle cx="1138.07" cy="888.06" r="3.6"/>
<circle cx="1188.33" cy="888.06" r="3.6"/>
<circle cx="953.78" cy="902.70" r="3.6"/>
<circle cx="970.53" cy="902.70" r="3.6"/>
<circle cx="987.29" cy="902.70" r="3.6"/>
<circle cx="1004.04" cy="902.70" r="3.6"/>
<circle cx="1020.79" cy="902.70" r="3.6"/>
<circle cx="1054.30" cy="902.70" r="3.6"/>
<circle cx="1087.81" cy="902.70" r="3.6"/>
<circle cx="1104.56" cy="902.70" r="3.6"/>
<circle cx="1121.32" cy="902.70" r="3.6"/>
<circle cx="1138.07" cy="902.70" r="3.6"/>
<circle cx="1188.33" cy="902.70" r="3.6"/>
<circle cx="1255.35" cy="902.70" r="3.6"/>
<circle cx="937.02" cy="917.34" r="3.6"/>
<circle cx="953.78" cy="917.34" r="3.6"/>
<circle cx="987.29" cy="917.34" r="3.6"/>
<circle cx="1004.04" cy="917.34" r="3.6"/>
<circle cx="1020.79" cy="917.34" r="3.6"/>
<circle cx="1037.55" cy="917.34" r="3.6"/>
<circle cx="1071.06" cy="917.34" r="3.6"/>
<circle cx="1087.81" cy="917.34" r="3.6"/>
<circle cx="1104.56" cy="917.34" r="3.6"/>
<circle cx="1121.32" cy="917.34" r="3.6"/>
<circle cx="1138.07" cy="917.34" r="3.6"/>
<circle cx="1154.83" cy="917.34" r="3.6"/>
<circle cx="1171.58" cy="917.34" r="3.6"/>
<circle cx="1188.33" cy="917.34" r="3.6"/>
<circle cx="920.27" cy="931.98" r="3.6"/>
<circle cx="937.02" cy="931.98" r="3.6"/>
<circle cx="970.53" cy="931.98" r="3.6"/>
<circle cx="987.29" cy="931.98" r="3.6"/>
<circle cx="1020.79" cy="931.98" r="3.6"/>
<circle cx="1037.55" cy="931.98" r="3.6"/>
<circle cx="1054.30" cy="931.98" r="3.6"/>
<circle cx="1071.06" cy="931.98" r="3.6"/>
<circle cx="1087.81" cy="931.98" r="3.6"/>
<circle cx="1104.56" cy="931.98" r="3.6"/>
<circle cx="1121.32" cy="931.98" r="3.6"/>
<circle cx="1138.07" cy="931.98" r="3.6"/>
<circle cx="1154.83" cy="931.98" r="3.6"/>
<circle cx="1171.58" cy="931.98" r="3.6"/>
<circle cx="836.50" cy="946.62" r="3.6"/>
<circle cx="886.76" cy="946.62" r="3.6"/>
<circle cx="920.27" cy="946.62" r="3.6"/>
<circle cx="953.78" cy="946.62" r="3.6"/>
<circle cx="987.29" cy="946.62" r="3.6"/>
<circle cx="1020.79" cy="946.62" r="3.6"/>
<circle cx="1037.55" cy="946.62" r="3.6"/>
<circle cx="1054.30" cy="946.62" r="3.6"/>
<circle cx="1071.06" cy="946.62" r="3.6"/>
<circle cx="1104.56" cy="946.62" r="3.6"/>
<circle cx="1121.32" cy="946.62" r="3.6"/>
<circle cx="1138.07" cy="946.62" r="3.6"/>
<circle cx="1221.84" cy="946.62" r="3.6"/>
<circle cx="937.02" cy="961.26" r="3.6"/>
<circle cx="970.53" cy="961.26" r="3.6"/>
<circle cx="987.29" cy="961.26" r="3.6"/>
<circle cx="1004.04" cy="961.26" r="3.6"/>
<circle cx="1020.79" cy="961.26" r="3.6"/>
<circle cx="1037.55" cy="961.26" r="3.6"/>
<circle cx="1054.30" cy="961.26" r="3.6"/>
<circle cx="1071.06" cy="961.26" r="3.6"/>
<circle cx="1087.81" cy="961.26" r="3.6"/>
<circle cx="1104.56" cy="961.26" r="3.6"/>
<circle cx="1121.32" cy="961.26" r="3.6"/>
<circle cx="1154.83" cy="961.26" r="3.6"/>
<circle cx="1171.58" cy="961.26" r="3.6"/>
<circle cx="1188.33" cy="961.26" r="3.6"/>
<circle cx="1205.09" cy="961.26" r="3.6"/>
<circle cx="853.25" cy="975.90" r="3.6"/>
<circle cx="903.52" cy="975.90" r="3.6"/>
<circle cx="920.27" cy="975.90" r="3.6"/>
<circle cx="937.02" cy="975.90" r="3.6"/>
<circle cx="953.78" cy="975.90" r="3.6"/>
<circle cx="970.53" cy="975.90" r="3.6"/>
<circle cx="987.29" cy="975.90" r="3.6"/>
<circle cx="1004.04" cy="975.90" r="3.6"/>
<circle cx="1020.79" cy="975.90" r="3.6"/>
<circle cx="1037.55" cy="975.90" r="3.6"/>
<circle cx="1054.30" cy="975.90" r="3.6"/>
<circle cx="1071.06" cy="975.90" r="3.6"/>
<circle cx="1087.81" cy="975.90" r="3.6"/>
<circle cx="1104.56" cy="975.90" r="3.6"/>
<circle cx="1121.32" cy="975.90" r="3.6"/>
<circle cx="1138.07" cy="975.90" r="3.6"/>
<circle cx="1154.83" cy="975.90" r="3.6"/>
<circle cx="1171.58" cy="975.90" r="3.6"/>
<circle cx="1188.33" cy="975.90" r="3.6"/>
<circle cx="903.52" cy="990.54" r="3.6"/>
<circle cx="920.27" cy="990.54" r="3.6"/>
<circle cx="937.02" cy="990.54" r="3.6"/>
<circle cx="953.78" cy="990.54" r="3.6"/>
<circle cx="970.53" cy="990.54" r="3.6"/>
<circle cx="987.29" cy="990.54" r="3.6"/>
<circle cx="1004.04" cy="990.54" r="3.6"/>
<circle cx="1020.79" cy="990.54" r="3.6"/>
<circle cx="1037.55" cy="990.54" r="3.6"/>
<circle cx="1054.30" cy="990.54" r="3.6"/>
<circle cx="1071.06" cy="990.54" r="3.6"/>
<circle cx="1087.81" cy="990.54" r="3.6"/>
<circle cx="1104.56" cy="990.54" r="3.6"/>
<circle cx="1121.32" cy="990.54" r="3.6"/>
<circle cx="1138.07" cy="990.54" r="3.6"/>
<circle cx="1171.58" cy="990.54" r="3.6"/>
<circle cx="1205.09" cy="990.54" r="3.6"/>
<circle cx="886.76" cy="1005.18" r="3.6"/>
<circle cx="937.02" cy="1005.18" r="3.6"/>
<circle cx="953.78" cy="1005.18" r="3.6"/>
<circle cx="970.53" cy="1005.18" r="3.6"/>
<circle cx="987.29" cy="1005.18" r="3.6"/>
<circle cx="1004.04" cy="1005.18" r="3.6"/>
<circle cx="1020.79" cy="1005.18" r="3.6"/>
<circle cx="1037.55" cy="1005.18" r="3.6"/>
<circle cx="1054.30" cy="1005.18" r="3.6"/>
<circle cx="1071.06" cy="1005.18" r="3.6"/>
<circle cx="1087.81" cy="1005.18" r="3.6"/>
<circle cx="1104.56" cy="1005.18" r="3.6"/>
<circle cx="1121.32" cy="1005.18" r="3.6"/>
<circle cx="1138.07" cy="1005.18" r="3.6"/>
<circle cx="1171.58" cy="1005.18" r="3.6"/>
<circle cx="870.01" cy="1019.82" r="3.6"/>
<circle cx="920.27" cy="1019.82" r="3.6"/>
<circle cx="937.02" cy="1019.82" r="3.6"/>
<circle cx="953.78" cy="1019.82" r="3.6"/>
<circle cx="970.53" cy="1019.82" r="3.6"/>
<circle cx="987.29" cy="1019.82" r="3.6"/>
<circle cx="1004.04" cy="1019.82" r="3.6"/>
<circle cx="1020.79" cy="1019.82" r="3.6"/>
<circle cx="1037.55" cy="1019.82" r="3.6"/>
<circle cx="1054.30" cy="1019.82" r="3.6"/>
<circle cx="1071.06" cy="1019.82" r="3.6"/>
<circle cx="1087.81" cy="1019.82" r="3.6"/>
<circle cx="1104.56" cy="1019.82" r="3.6"/>
<circle cx="1121.32" cy="1019.82" r="3.6"/>
<circle cx="1138.07" cy="1019.82" r="3.6"/>
<circle cx="1154.83" cy="1019.82" r="3.6"/>
<circle cx="1171.58" cy="1019.82" r="3.6"/>
<circle cx="870.01" cy="1034.46" r="3.6"/>
<circle cx="886.76" cy="1034.46" r="3.6"/>
<circle cx="903.52" cy="1034.46" r="3.6"/>
<circle cx="920.27" cy="1034.46" r="3.6"/>
<circle cx="937.02" cy="1034.46" r="3.6"/>
<circle cx="953.78" cy="1034.46" r="3.6"/>
<circle cx="970.53" cy="1034.46" r="3.6"/>
<circle cx="987.29" cy="1034.46" r="3.6"/>
<circle cx="1004.04" cy="1034.46" r="3.6"/>
<circle cx="1020.79" cy="1034.46" r="3.6"/>
<circle cx="1037.55" cy="1034.46" r="3.6"/>
<circle cx="1054.30" cy="1034.46" r="3.6"/>
<circle cx="1071.06" cy="1034.46" r="3.6"/>
<circle cx="1087.81" cy="1034.46" r="3.6"/>
<circle cx="1104.56" cy="1034.46" r="3.6"/>
<circle cx="1121.32" cy="1034.46" r="3.6"/>
<circle cx="1138.07" cy="1034.46" r="3.6"/>
<circle cx="1154.83" cy="1034.46" r="3.6"/>
<circle cx="1188.33" cy="1034.46" r="3.6"/>
<circle cx="1238.60" cy="1034.46" r="3.6"/>
<circle cx="853.25" cy="1049.10" r="3.6"/>
<circle cx="870.01" cy="1049.10" r="3.6"/>
<circle cx="886.76" cy="1049.10" r="3.6"/>
<circle cx="903.52" cy="1049.10" r="3.6"/>
<circle cx="920.27" cy="1049.10" r="3.6"/>
<circle cx="937.02" cy="1049.10" r="3.6"/>
<circle cx="953.78" cy="1049.10" r="3.6"/>
<circle cx="970.53" cy="1049.10" r="3.6"/>
<circle cx="987.29" cy="1049.10" r="3.6"/>
<circle cx="1004.04" cy="1049.10" r="3.6"/>
<circle cx="1020.79" cy="1049.10" r="3.6"/>
<circle cx="1037.55" cy="1049.10" r="3.6"/>
<circle cx="1054.30" cy="1049.10" r="3.6"/>
<circle cx="1071.06" cy="1049.10" r="3.6"/>
<circle cx="1087.81" cy="1049.10" r="3.6"/>
<circle cx="1104.56" cy="1049.10" r="3.6"/>
<circle cx="1121.32" cy="1049.10" r="3.6"/>
<circle cx="1138.07" cy="1049.10" r="3.6"/>
<circle cx="1154.83" cy="1049.10" r="3.6"/>
<circle cx="1171.58" cy="1049.10" r="3.6"/>
<circle cx="1188.33" cy="1049.10" r="3.6"/>
<circle cx="836.50" cy="1063.74" r="3.6"/>
<circle cx="870.01" cy="1063.74" r="3.6"/>
<circle cx="886.76" cy="1063.74" r="3.6"/>
<circle cx="903.52" cy="1063.74" r="3.6"/>
<circle cx="920.27" cy="1063.74" r="3.6"/>
<circle cx="937.02" cy="1063.74" r="3.6"/>
<circle cx="953.78" cy="1063.74" r="3.6"/>
<circle cx="970.53" cy="1063.74" r="3.6"/>
<circle cx="987.29" cy="1063.74" r="3.6"/>
<circle cx="1004.04" cy="1063.74" r="3.6"/>
<circle cx="1020.79" cy="1063.74" r="3.6"/>
<circle cx="1037.55" cy="1063.74" r="3.6"/>
<circle cx="1054.30" cy="1063.74" r="3.6"/>
<circle cx="1071.06" cy="1063.74" r="3.6"/>
<circle cx="1087.81" cy="1063.74" r="3.6"/>
<circle cx="1104.56" cy="1063.74" r="3.6"/>
<circle cx="1121.32" cy="1063.74" r="3.6"/>
<circle cx="1138.07" cy="1063.74" r="3.6"/>
<circle cx="1154.83" cy="1063.74" r="3.6"/>
<circle cx="1188.33" cy="1063.74" r="3.6"/>
<circle cx="1205.09" cy="1063.74" r="3.6"/>
<circle cx="836.50" cy="1078.38" r="3.6"/>
<circle cx="853.25" cy="1078.38" r="3.6"/>
<circle cx="870.01" cy="1078.38" r="3.6"/>
<circle cx="886.76" cy="1078.38" r="3.6"/>
<circle cx="903.52" cy="1078.38" r="3.6"/>
<circle cx="920.27" cy="1078.38" r="3.6"/>
<circle cx="937.02" cy="1078.38" r="3.6"/>
<circle cx="953.78" cy="1078.38" r="3.6"/>
<circle cx="970.53" cy="1078.38" r="3.6"/>
<circle cx="987.29" cy="1078.38" r="3.6"/>
<circle cx="1004.04" cy="1078.38" r="3.6"/>
<circle cx="1020.79" cy="1078.38" r="3.6"/>
<circle cx="1037.55" cy="1078.38" r="3.6"/>
<circle cx="1054.30" cy="1078.38" r="3.6"/>
<circle cx="1071.06" cy="1078.38" r="3.6"/>
<circle cx="1087.81" cy="1078.38" r="3.6"/>
<circle cx="1104.56" cy="1078.38" r="3.6"/>
<circle cx="1121.32" cy="1078.38" r="3.6"/>
<circle cx="1138.07" cy="1078.38" r="3.6"/>
<circle cx="836.50" cy="1093.02" r="3.6"/>
<circle cx="853.25" cy="1093.02" r="3.6"/>
<circle cx="870.01" cy="1093.02" r="3.6"/>
<circle cx="886.76" cy="1093.02" r="3.6"/>
<circle cx="903.52" cy="1093.02" r="3.6"/>
<circle cx="920.27" cy="1093.02" r="3.6"/>
<circle cx="937.02" cy="1093.02" r="3.6"/>
<circle cx="953.78" cy="1093.02" r="3.6"/>
<circle cx="970.53" cy="1093.02" r="3.6"/>
<circle cx="987.29" cy="1093.02" r="3.6"/>
<circle cx="1004.04" cy="1093.02" r="3.6"/>
<circle cx="1020.79" cy="1093.02" r="3.6"/>
<circle cx="1037.55" cy="1093.02" r="3.6"/>
<circle cx="1054.30" cy="1093.02" r="3.6"/>
<circle cx="1071.06" cy="1093.02" r="3.6"/>
<circle cx="1087.81" cy="1093.02" r="3.6"/>
<circle cx="1104.56" cy="1093.02" r="3.6"/>
<circle cx="1138.07" cy="1093.02" r="3.6"/>
<circle cx="1154.83" cy="1093.02" r="3.6"/>
<circle cx="1171.58" cy="1093.02" r="3.6"/>
<circle cx="1205.09" cy="1093.02" r="3.6"/>
<circle cx="1221.84" cy="1093.02" r="3.6"/>
<circle cx="853.25" cy="1107.66" r="3.6"/>
<circle cx="870.01" cy="1107.66" r="3.6"/>
<circle cx="886.76" cy="1107.66" r="3.6"/>
<circle cx="903.52" cy="1107.66" r="3.6"/>
<circle cx="920.27" cy="1107.66" r="3.6"/>
<circle cx="937.02" cy="1107.66" r="3.6"/>
<circle cx="953.78" cy="1107.66" r="3.6"/>
<circle cx="970.53" cy="1107.66" r="3.6"/>
<circle cx="987.29" cy="1107.66" r="3.6"/>
<circle cx="1004.04" cy="1107.66" r="3.6"/>
<circle cx="1020.79" cy="1107.66" r="3.6"/>
<circle cx="1037.55" cy="1107.66" r="3.6"/>
<circle cx="1054.30" cy="1107.66" r="3.6"/>
<circle cx="1071.06" cy="1107.66" r="3.6"/>
<circle cx="1087.81" cy="1107.66" r="3.6"/>
<circle cx="1104.56" cy="1107.66" r="3.6"/>
<circle cx="1154.83" cy="1107.66" r="3.6"/>
<circle cx="836.50" cy="1122.30" r="3.6"/>
<circle cx="853.25" cy="1122.30" r="3.6"/>
<circle cx="870.01" cy="1122.30" r="3.6"/>
<circle cx="886.76" cy="1122.30" r="3.6"/>
<circle cx="903.52" cy="1122.30" r="3.6"/>
<circle cx="920.27" cy="1122.30" r="3.6"/>
<circle cx="937.02" cy="1122.30" r="3.6"/>
<circle cx="953.78" cy="1122.30" r="3.6"/>
<circle cx="970.53" cy="1122.30" r="3.6"/>
<circle cx="987.29" cy="1122.30" r="3.6"/>
<circle cx="1004.04" cy="1122.30" r="3.6"/>
<circle cx="1020.79" cy="1122.30" r="3.6"/>
<circle cx="1037.55" cy="1122.30" r="3.6"/>
<circle cx="1054.30" cy="1122.30" r="3.6"/>
<circle cx="1071.06" cy="1122.30" r="3.6"/>
<circle cx="1121.32" cy="1122.30" r="3.6"/>
<circle cx="1138.07" cy="1122.30" r="3.6"/>
<circle cx="1154.83" cy="1122.30" r="3.6"/>
<circle cx="1171.58" cy="1122.30" r="3.6"/>
<circle cx="1322.37" cy="1122.30" r="3.6"/>
<line x1="837.9" y1="1112.8" x2="1321.3" y2="877.4" stroke="#000" stroke-width="3"/>
</g>
</g>
<g fill="#000">
<text x="0" y="0" font-family="'Liberation Sans', sans-serif" font-weight="bold" font-size="100" transform="matrix(0.3543 0.0003 0.0000 0.3423 11.2095 38.6216)"><tspan>A</tspan></text>
<text x="0" y="0" font-family="'Liberation Sans', sans-serif" font-weight="bold" font-size="100" transform="matrix(0.3281 0.0003 0.0000 0.3403 722.2232 38.4800)"><tspan>B</tspan></text>
<text x="0" y="0" font-family="'Liberation Sans', sans-serif" font-weight="bold" font-size="100" transform="matrix(0.3152 0.0003 0.0000 0.3505 12.2106 667.1934)"><tspan>C</tspan></text>
<text x="0" y="0" font-family="'Liberation Sans', sans-serif" font-weight="bold" font-size="100" transform="matrix(0.3259 0.0003 0.0000 0.3403 722.2390 666.7400)"><tspan>D</tspan></text>
<text x="0" y="0" font-family="'Liberation Serif', serif" font-weight="bold" font-size="100" transform="matrix(0.3440 0.0003 0.0000 0.3422 267.1550 590.2034)"><tspan>SSS-CN scores</tspan></text>
<text x="0" y="0" font-family="'Liberation Serif', serif" font-weight="bold" font-size="100" transform="matrix(0.3588 0.0003 0.0000 0.3267 979.4009 588.1933)"><tspan>PHQ-15 scores</tspan></text>
<text x="0" y="0" font-family="'Liberation Serif', serif" font-weight="bold" font-size="100" transform="matrix(0.3399 0.0003 0.0000 0.3622 268.3687 1221.9827)"><tspan>SSS-CN scores</tspan></text>
<text x="0" y="0" font-family="'Liberation Serif', serif" font-weight="bold" font-size="100" transform="matrix(0.3601 0.0003 0.0000 0.3569 973.9736 1223.0726)"><tspan>PHQ-15 scores</tspan></text>
<text x="0" y="0" font-family="'Liberation Serif', serif" font-weight="bold" font-size="100" transform="matrix(0.0003 -0.3524 0.3532 0.0000 63.8303 379.1426)"><tspan>GAD-7 scores</tspan></text>
<text x="0" y="0" font-family="'Liberation Serif', serif" font-weight="bold" font-size="100" transform="matrix(0.0003 -0.3580 0.3573 0.0000 767.5858 374.8493)"><tspan>GAD-7 scores</tspan></text>
<text x="0" y="0" font-family="'Liberation Serif', serif" font-weight="bold" font-size="100" transform="matrix(0.0003 -0.3750 0.3241 0.0000 64.6035 998.7500)"><tspan>PHQ-9 scores</tspan></text>
<text x="0" y="0" font-family="'Liberation Serif', serif" font-weight="bold" font-size="100" transform="matrix(0.0003 -0.3679 0.3325 0.0000 759.6700 1005.6037)"><tspan>PHQ-9 scores</tspan></text>
<text x="0" y="0" font-family="'Liberation Serif', serif" font-weight="bold" font-size="100" transform="matrix(0.3407 0.0003 0.0000 0.3344 555.3312 300.3312)"><tspan font-style="italic">r</tspan><tspan>=0.614</tspan></text>
<text x="0" y="0" font-family="'Liberation Serif', serif" font-weight="bold" font-size="100" transform="matrix(0.3400 0.0003 0.0000 0.3360 555.0000 339.9378)"><tspan font-style="italic">P</tspan><tspan>&lt;0.001</tspan></text>
<text x="0" y="0" font-family="'Liberation Serif', serif" font-weight="bold" font-size="100" transform="matrix(0.3540 0.0003 0.0000 0.3509 1291.5520 352.8299)"><tspan font-style="italic">r</tspan><tspan>=0.444</tspan></text>
<text x="0" y="0" font-family="'Liberation Serif', serif" font-weight="bold" font-size="100" transform="matrix(0.3522 0.0003 0.0000 0.3279 1290.5200 391.9885)"><tspan font-style="italic">P</tspan><tspan>&lt;0.001</tspan></text>
<text x="0" y="0" font-family="'Liberation Serif', serif" font-weight="bold" font-size="100" transform="matrix(0.3359 0.0003 0.0000 0.3536 547.8462 900.9313)"><tspan font-style="italic">r</tspan><tspan>=0.674</tspan></text>
<text x="0" y="0" font-family="'Liberation Serif', serif" font-weight="bold" font-size="100" transform="matrix(0.3344 0.0003 0.0000 0.3560 547.7031 942.1018)"><tspan font-style="italic">P</tspan><tspan>&lt;0.001</tspan></text>
<text x="0" y="0" font-family="'Liberation Serif', serif" font-weight="bold" font-size="100" transform="matrix(0.3614 0.0003 0.0000 0.3508 1281.5918 946.6678)"><tspan font-style="italic">r</tspan><tspan>=0.528</tspan></text>
<text x="0" y="0" font-family="'Liberation Serif', serif" font-weight="bold" font-size="100" transform="matrix(0.3568 0.0003 0.0000 0.3387 1280.5812 986.8732)"><tspan font-style="italic">P</tspan><tspan>&lt;0.001</tspan></text>
<text x="0" y="0" font-family="'Liberation Serif', serif" font-weight="bold" font-size="100" transform="matrix(0.3506 0.0003 0.0000 0.3541 101.0648 505.1996)"><tspan>0</tspan></text>
<text x="0" y="0" font-family="'Liberation Serif', serif" font-weight="bold" font-size="100" transform="matrix(0.3508 0.0003 0.0000 0.3541 101.0106 433.5919)"><tspan>5</tspan></text>
<text x="0" y="0" font-family="'Liberation Serif', serif" font-weight="bold" font-size="100" transform="matrix(0.3502 0.0003 0.0000 0.3562 83.4923 362.4565)"><tspan>10</tspan></text>
<text x="0" y="0" font-family="'Liberation Serif', serif" font-weight="bold" font-size="100" transform="matrix(0.3503 0.0003 0.0000 0.3565 83.4914 290.6435)"><tspan>15</tspan></text>
<text x="0" y="0" font-family="'Liberation Serif', serif" font-weight="bold" font-size="100" transform="matrix(0.3525 0.0003 0.0000 0.3540 83.2399 219.1998)"><tspan>20</tspan></text>
<text x="0" y="0" font-family="'Liberation Serif', serif" font-weight="bold" font-size="100" transform="matrix(0.3521 0.0003 0.0000 0.3479 83.2413 147.5981)"><tspan>25</tspan></text>
<text x="0" y="0" font-family="'Liberation Serif', serif" font-weight="bold" font-size="100" transform="matrix(0.3509 0.0003 0.0000 0.3540 83.4375 76.1998)"><tspan>30</tspan></text>
<text x="0" y="0" font-family="'Liberation Serif', serif" font-weight="bold" font-size="100" transform="matrix(0.3403 0.0003 0.0000 0.3467 127.1459 544.3175)"><tspan>0</tspan></text>
<text x="0" y="0" font-family="'Liberation Serif', serif" font-weight="bold" font-size="100" transform="matrix(0.3438 0.0003 0.0000 0.3523 171.1217 544.5895)"><tspan>10</tspan></text>
<text x="0" y="0" font-family="'Liberation Serif', serif" font-weight="bold" font-size="100" transform="matrix(0.3386 0.0003 0.0000 0.3468 225.4777 544.3206)"><tspan>20</tspan></text>
<text x="0" y="0" font-family="'Liberation Serif', serif" font-weight="bold" font-size="100" transform="matrix(0.3430 0.0003 0.0000 0.3461 278.3841 544.2749)"><tspan>30</tspan></text>
<text x="0" y="0" font-family="'Liberation Serif', serif" font-weight="bold" font-size="100" transform="matrix(0.3393 0.0003 0.0000 0.3468 332.5364 544.3206)"><tspan>40</tspan></text>
<text x="0" y="0" font-family="'Liberation Serif', serif" font-weight="bold" font-size="100" transform="matrix(0.3392 0.0003 0.0000 0.3461 385.0189 544.2749)"><tspan>50</tspan></text>
<text x="0" y="0" font-family="'Liberation Serif', serif" font-weight="bold" font-size="100" transform="matrix(0.3399 0.0003 0.0000 0.3461 438.5626 544.2749)"><tspan>60</tspan></text>
<text x="0" y="0" font-family="'Liberation Serif', serif" font-weight="bold" font-size="100" transform="matrix(0.3370 0.0003 0.0000 0.3469 491.5559 544.3297)"><tspan>70</tspan></text>
<text x="0" y="0" font-family="'Liberation Serif', serif" font-weight="bold" font-size="100" transform="matrix(0.3397 0.0003 0.0000 0.3466 544.9259 544.3084)"><tspan>80</tspan></text>
<text x="0" y="0" font-family="'Liberation Serif', serif" font-weight="bold" font-size="100" transform="matrix(0.3377 0.0003 0.0000 0.3466 598.6338 544.3084)"><tspan>90</tspan></text>
<text x="0" y="0" font-family="'Liberation Serif', serif" font-weight="bold" font-size="100" transform="matrix(0.3461 0.0003 0.0000 0.3471 806.5587 500.8720)"><tspan>0</tspan></text>
<text x="0" y="0" font-family="'Liberation Serif', serif" font-weight="bold" font-size="100" transform="matrix(0.3493 0.0003 0.0000 0.3438 806.4143 428.2220)"><tspan>5</tspan></text>
<text x="0" y="0" font-family="'Liberation Serif', serif" font-weight="bold" font-size="100" transform="matrix(0.3524 0.0003 0.0000 0.3459 788.6485 356.2864)"><tspan>10</tspan></text>
<text x="0" y="0" font-family="'Liberation Serif', serif" font-weight="bold" font-size="100" transform="matrix(0.3524 0.0003 0.0000 0.3461 788.6485 284.2310)"><tspan>15</tspan></text>
<text x="0" y="0" font-family="'Liberation Serif', serif" font-weight="bold" font-size="100" transform="matrix(0.3528 0.0003 0.0000 0.3467 788.6075 211.9565)"><tspan>20</tspan></text>
<text x="0" y="0" font-family="'Liberation Serif', serif" font-weight="bold" font-size="100" transform="matrix(0.3529 0.0003 0.0000 0.3409 788.6042 139.3370)"><tspan>25</tspan></text>
<text x="0" y="0" font-family="'Liberation Serif', serif" font-weight="bold" font-size="100" transform="matrix(0.3520 0.0003 0.0000 0.3437 788.6860 67.3304)"><tspan>30</tspan></text>
<text x="0" y="0" font-family="'Liberation Serif', serif" font-weight="bold" font-size="100" transform="matrix(0.3563 0.0003 0.0000 0.3543 833.8643 541.9776)"><tspan>0</tspan></text>
<text x="0" y="0" font-family="'Liberation Serif', serif" font-weight="bold" font-size="100" transform="matrix(0.3491 0.0003 0.0000 0.3511 917.2633 541.6030)"><tspan>5</tspan></text>
<text x="0" y="0" font-family="'Liberation Serif', serif" font-weight="bold" font-size="100" transform="matrix(0.3567 0.0003 0.0000 0.3595 990.9280 542.5080)"><tspan>10</tspan></text>
<text x="0" y="0" font-family="'Liberation Serif', serif" font-weight="bold" font-size="100" transform="matrix(0.3577 0.0003 0.0000 0.3599 1074.5282 542.1256)"><tspan>15</tspan></text>
<text x="0" y="0" font-family="'Liberation Serif', serif" font-weight="bold" font-size="100" transform="matrix(0.3604 0.0003 0.0000 0.3541 1158.4213 541.9781)"><tspan>20</tspan></text>
<text x="0" y="0" font-family="'Liberation Serif', serif" font-weight="bold" font-size="100" transform="matrix(0.3588 0.0003 0.0000 0.3486 1241.9985 541.6056)"><tspan>25</tspan></text>
<text x="0" y="0" font-family="'Liberation Serif', serif" font-weight="bold" font-size="100" transform="matrix(0.3594 0.0003 0.0000 0.3542 1325.3722 541.9779)"><tspan>30</tspan></text>
<text x="0" y="0" font-family="'Liberation Serif', serif" font-weight="bold" font-size="100" transform="matrix(0.3290 0.0003 0.0000 0.3575 103.0532 1132.1929)"><tspan>0</tspan></text>
<text x="0" y="0" font-family="'Liberation Serif', serif" font-weight="bold" font-size="100" transform="matrix(0.3296 0.0003 0.0000 0.3573 103.0038 1057.6932)"><tspan>5</tspan></text>
<text x="0" y="0" font-family="'Liberation Serif', serif" font-weight="bold" font-size="100" transform="matrix(0.3300 0.0003 0.0000 0.3660 86.6874 983.8853)"><tspan>10</tspan></text>
<text x="0" y="0" font-family="'Liberation Serif', serif" font-weight="bold" font-size="100" transform="matrix(0.3297 0.0003 0.0000 0.3604 86.6903 909.4153)"><tspan>15</tspan></text>
<text x="0" y="0" font-family="'Liberation Serif', serif" font-weight="bold" font-size="100" transform="matrix(0.3333 0.0003 0.0000 0.3604 86.3225 835.0591)"><tspan>20</tspan></text>
<text x="0" y="0" font-family="'Liberation Serif', serif" font-weight="bold" font-size="100" transform="matrix(0.3330 0.0003 0.0000 0.3552 86.3207 760.5831)"><tspan>25</tspan></text>
<text x="0" y="0" font-family="'Liberation Serif', serif" font-weight="bold" font-size="100" transform="matrix(0.3315 0.0003 0.0000 0.3571 86.5117 686.5128)"><tspan>30</tspan></text>
<text x="0" y="0" font-family="'Liberation Serif', serif" font-weight="bold" font-size="100" transform="matrix(0.3313 0.0003 0.0000 0.3469 129.1255 1173.8263)"><tspan>0</tspan></text>
<text x="0" y="0" font-family="'Liberation Serif', serif" font-weight="bold" font-size="100" transform="matrix(0.3300 0.0003 0.0000 0.3517 172.8330 1174.3286)"><tspan>10</tspan></text>
<text x="0" y="0" font-family="'Liberation Serif', serif" font-weight="bold" font-size="100" transform="matrix(0.3334 0.0003 0.0000 0.3467 225.9746 1173.8265)"><tspan>20</tspan></text>
<text x="0" y="0" font-family="'Liberation Serif', serif" font-weight="bold" font-size="100" transform="matrix(0.3329 0.0003 0.0000 0.3469 278.6682 1173.8263)"><tspan>30</tspan></text>
<text x="0" y="0" font-family="'Liberation Serif', serif" font-weight="bold" font-size="100" transform="matrix(0.3287 0.0003 0.0000 0.3465 331.9559 1173.8270)"><tspan>40</tspan></text>
<text x="0" y="0" font-family="'Liberation Serif', serif" font-weight="bold" font-size="100" transform="matrix(0.3285 0.0003 0.0000 0.3470 384.2581 1173.8261)"><tspan>50</tspan></text>
<text x="0" y="0" font-family="'Liberation Serif', serif" font-weight="bold" font-size="100" transform="matrix(0.3363 0.0003 0.0000 0.3467 436.4446 1173.8265)"><tspan>60</tspan></text>
<text x="0" y="0" font-family="'Liberation Serif', serif" font-weight="bold" font-size="100" transform="matrix(0.3303 0.0003 0.0000 0.3470 488.7908 1173.8261)"><tspan>70</tspan></text>
<text x="0" y="0" font-family="'Liberation Serif', serif" font-weight="bold" font-size="100" transform="matrix(0.3334 0.0003 0.0000 0.3471 541.7743 1173.8258)"><tspan>80</tspan></text>
<text x="0" y="0" font-family="'Liberation Serif', serif" font-weight="bold" font-size="100" transform="matrix(0.3318 0.0003 0.0000 0.3469 594.5149 1173.8263)"><tspan>90</tspan></text>
<text x="0" y="0" font-family="'Liberation Serif', serif" font-weight="bold" font-size="100" transform="matrix(0.3624 0.0003 0.0000 0.3391 799.3319 1134.7297)"><tspan>0</tspan></text>
<text x="0" y="0" font-family="'Liberation Serif', serif" font-weight="bold" font-size="100" transform="matrix(0.3672 0.0003 0.0000 0.3334 799.0018 1061.1121)"><tspan>5</tspan></text>
<text x="0" y="0" font-family="'Liberation Serif', serif" font-weight="bold" font-size="100" transform="matrix(0.3678 0.0003 0.0000 0.3413 780.6910 988.3190)"><tspan>10</tspan></text>
<text x="0" y="0" font-family="'Liberation Serif', serif" font-weight="bold" font-size="100" transform="matrix(0.3678 0.0003 0.0000 0.3417 780.6910 915.1054)"><tspan>15</tspan></text>
<text x="0" y="0" font-family="'Liberation Serif', serif" font-weight="bold" font-size="100" transform="matrix(0.3677 0.0003 0.0000 0.3355 780.6164 841.8490)"><tspan>20</tspan></text>
<text x="0" y="0" font-family="'Liberation Serif', serif" font-weight="bold" font-size="100" transform="matrix(0.3677 0.0003 0.0000 0.3334 780.6133 768.6321)"><tspan>25</tspan></text>
<text x="0" y="0" font-family="'Liberation Serif', serif" font-weight="bold" font-size="100" transform="matrix(0.3631 0.0003 0.0000 0.3358 781.0676 695.2163)"><tspan>30</tspan></text>
<text x="0" y="0" font-family="'Liberation Serif', serif" font-weight="bold" font-size="100" transform="matrix(0.3704 0.0003 0.0000 0.3426 828.3477 1174.8969)"><tspan>0</tspan></text>
<text x="0" y="0" font-family="'Liberation Serif', serif" font-weight="bold" font-size="100" transform="matrix(0.3720 0.0003 0.0000 0.3364 911.8843 1174.3296)"><tspan>5</tspan></text>
<text x="0" y="0" font-family="'Liberation Serif', serif" font-weight="bold" font-size="100" transform="matrix(0.3718 0.0003 0.0000 0.3472 985.6450 1175.1731)"><tspan>10</tspan></text>
<text x="0" y="0" font-family="'Liberation Serif', serif" font-weight="bold" font-size="100" transform="matrix(0.3719 0.0003 0.0000 0.3416 1069.2945 1174.8075)"><tspan>15</tspan></text>
<text x="0" y="0" font-family="'Liberation Serif', serif" font-weight="bold" font-size="100" transform="matrix(0.3727 0.0003 0.0000 0.3360 1153.6453 1174.4771)"><tspan>20</tspan></text>
<text x="0" y="0" font-family="'Liberation Serif', serif" font-weight="bold" font-size="100" transform="matrix(0.3733 0.0003 0.0000 0.3337 1237.1609 1174.3323)"><tspan>25</tspan></text>
<text x="0" y="0" font-family="'Liberation Serif', serif" font-weight="bold" font-size="100" transform="matrix(0.3691 0.0003 0.0000 0.3361 1321.1660 1174.4770)"><tspan>30</tspan></text>
</g>
</svg></body></html>
